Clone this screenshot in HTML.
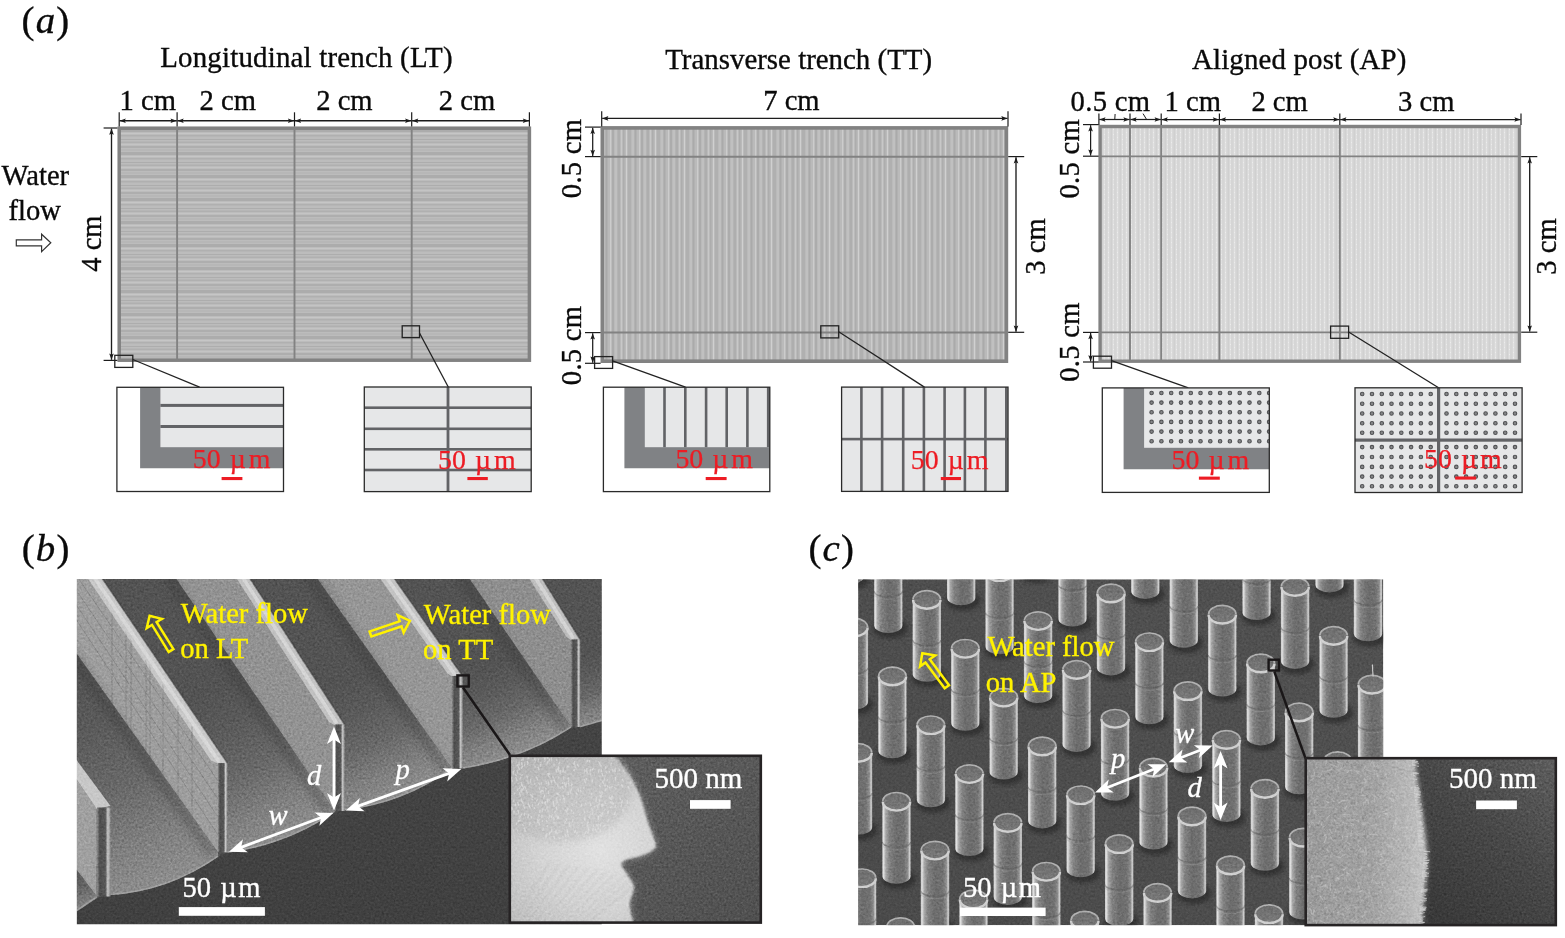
<!DOCTYPE html>
<html><head><meta charset="utf-8"><title>Figure</title>
<style>html,body{margin:0;padding:0;background:#fff;}svg{display:block}text{font-family:"Liberation Serif", serif;}</style>
</head><body>
<svg width="1565" height="938" viewBox="0 0 1565 938">
<rect width="1565" height="938" fill="#fff"/>
<defs>
<pattern id="pLT" width="8" height="23" patternUnits="userSpaceOnUse">
 <rect width="8" height="23" fill="#bcbcbc"/>
 <rect y="1" width="8" height="1" fill="#adadad"/>
 <rect y="3.5" width="8" height="1.5" fill="#b0b0b0"/>
 <rect y="6" width="8" height="1" fill="#c4c4c4"/>
 <rect y="8" width="8" height="2" fill="#aeaeae"/>
 <rect y="11.5" width="8" height="1" fill="#b2b2b2"/>
 <rect y="14" width="8" height="3" fill="#acacac"/>
 <rect y="18" width="8" height="1" fill="#c6c6c6"/>
 <rect y="20" width="8" height="1.5" fill="#b0b0b0"/>
</pattern>
<pattern id="pTT" width="29" height="8" patternUnits="userSpaceOnUse">
 <rect width="29" height="8" fill="#bababa"/>
 <rect x="1" width="1.2" height="8" fill="#cccccc"/>
 <rect x="3" width="2" height="8" fill="#acacac"/>
 <rect x="6.5" width="1" height="8" fill="#c6c6c6"/>
 <rect x="8.5" width="2.5" height="8" fill="#aeaeae"/>
 <rect x="12" width="1" height="8" fill="#c8c8c8"/>
 <rect x="14" width="1.5" height="8" fill="#adadad"/>
 <rect x="17" width="1" height="8" fill="#d0d0d0"/>
 <rect x="19" width="3" height="8" fill="#b0b0b0"/>
 <rect x="23.5" width="1" height="8" fill="#c6c6c6"/>
 <rect x="25.5" width="2" height="8" fill="#aaaaaa"/>
</pattern>
<pattern id="pAP" width="9" height="5" patternUnits="userSpaceOnUse">
 <rect width="9" height="5" fill="#d8d8d8"/>
 <rect x="1" width="1" height="5" fill="#e2e2e2"/>
 <rect x="3.5" width="1.5" height="5" fill="#d0d0d0"/>
 <rect x="6" width="1" height="5" fill="#e0e0e0"/>
 <rect x="7.5" width="1" height="5" fill="#d2d2d2"/>
 <rect x="1" y="2" width="1" height="1" fill="#ececec"/>
 <rect x="6" y="4" width="1" height="1" fill="#ececec"/>
</pattern>
<filter id="grain" x="0" y="0" width="100%" height="100%" color-interpolation-filters="sRGB">
 <feTurbulence type="fractalNoise" baseFrequency="0.45" numOctaves="2" seed="4" result="n"/>
 <feColorMatrix type="matrix" values="0.33 0.33 0.33 0 0  0.33 0.33 0.33 0 0  0.33 0.33 0.33 0 0  0 0 0 0 1"/>
 <feComponentTransfer><feFuncR type="linear" slope="2.2" intercept="-0.6"/><feFuncG type="linear" slope="2.2" intercept="-0.6"/><feFuncB type="linear" slope="2.2" intercept="-0.6"/></feComponentTransfer>
 <feGaussianBlur stdDeviation="0.55"/>
</filter>
<filter id="grain2" x="0" y="0" width="100%" height="100%" color-interpolation-filters="sRGB">
 <feTurbulence type="fractalNoise" baseFrequency="0.16" numOctaves="3" seed="9" result="n"/>
 <feColorMatrix type="saturate" values="0"/>
</filter>
<filter id="b1"><feGaussianBlur stdDeviation="1"/></filter>
<filter id="b2"><feGaussianBlur stdDeviation="2"/></filter>
<filter id="b3"><feGaussianBlur stdDeviation="3.5"/></filter>
<filter id="b06"><feGaussianBlur stdDeviation="0.6"/></filter>
</defs>
<text x="21.6" y="32.9" font-size="38.9" fill="#0a0a0a" stroke="#0a0a0a" stroke-width="0.35" text-anchor="start" letter-spacing="1.1">(<tspan font-style="italic">a</tspan>)</text>
<text x="160.2" y="67.3" font-size="28.9" fill="#0a0a0a" stroke="#0a0a0a" stroke-width="0.35" text-anchor="start" letter-spacing="0.2">Longitudinal trench (LT)</text>
<text x="665.2" y="69.3" font-size="28.9" fill="#0a0a0a" stroke="#0a0a0a" stroke-width="0.35" text-anchor="start">Transverse trench (TT)</text>
<text x="1192.0" y="69.3" font-size="28.9" fill="#0a0a0a" stroke="#0a0a0a" stroke-width="0.35" text-anchor="start" letter-spacing="0.15">Aligned post (AP)</text>
<rect x="119.2" y="128.2" width="410.2" height="232.0" fill="url(#pLT)" stroke="#828282" stroke-width="3.5"/>
<line x1="177.1" y1="128.2" x2="177.1" y2="360.2" stroke="#828282" stroke-width="1.9"/>
<line x1="294.5" y1="128.2" x2="294.5" y2="360.2" stroke="#828282" stroke-width="1.9"/>
<line x1="411.7" y1="128.2" x2="411.7" y2="360.2" stroke="#828282" stroke-width="1.9"/>
<line x1="119.2" y1="112.3" x2="119.2" y2="126.5" stroke="#1c1c1c" stroke-width="1.2"/>
<line x1="177.1" y1="112.3" x2="177.1" y2="126.5" stroke="#1c1c1c" stroke-width="1.2"/>
<line x1="294.5" y1="112.3" x2="294.5" y2="126.5" stroke="#1c1c1c" stroke-width="1.2"/>
<line x1="411.7" y1="112.3" x2="411.7" y2="126.5" stroke="#1c1c1c" stroke-width="1.2"/>
<line x1="529.4" y1="112.3" x2="529.4" y2="126.5" stroke="#1c1c1c" stroke-width="1.2"/>
<line x1="119.60000000000001" y1="120.7" x2="176.7" y2="120.7" stroke="#1c1c1c" stroke-width="1.35"/>
<polygon points="119.60,120.70 125.80,118.40 124.68,120.70 125.80,123.00" fill="#1c1c1c"/>
<polygon points="176.70,120.70 170.50,123.00 171.62,120.70 170.50,118.40" fill="#1c1c1c"/>
<line x1="177.5" y1="120.7" x2="294.1" y2="120.7" stroke="#1c1c1c" stroke-width="1.35"/>
<polygon points="177.50,120.70 183.70,118.40 182.58,120.70 183.70,123.00" fill="#1c1c1c"/>
<polygon points="294.10,120.70 287.90,123.00 289.02,120.70 287.90,118.40" fill="#1c1c1c"/>
<line x1="294.9" y1="120.7" x2="411.3" y2="120.7" stroke="#1c1c1c" stroke-width="1.35"/>
<polygon points="294.90,120.70 301.10,118.40 299.98,120.70 301.10,123.00" fill="#1c1c1c"/>
<polygon points="411.30,120.70 405.10,123.00 406.22,120.70 405.10,118.40" fill="#1c1c1c"/>
<line x1="412.09999999999997" y1="120.7" x2="529.0" y2="120.7" stroke="#1c1c1c" stroke-width="1.35"/>
<polygon points="412.10,120.70 418.30,118.40 417.18,120.70 418.30,123.00" fill="#1c1c1c"/>
<polygon points="529.00,120.70 522.80,123.00 523.92,120.70 522.80,118.40" fill="#1c1c1c"/>
<text x="119.6" y="110.3" font-size="28.6" fill="#0a0a0a" stroke="#0a0a0a" stroke-width="0.35" text-anchor="start">1 cm</text>
<text x="199.6" y="110.3" font-size="28.6" fill="#0a0a0a" stroke="#0a0a0a" stroke-width="0.35" text-anchor="start">2 cm</text>
<text x="316.2" y="110.3" font-size="28.6" fill="#0a0a0a" stroke="#0a0a0a" stroke-width="0.35" text-anchor="start">2 cm</text>
<text x="438.8" y="110.3" font-size="28.6" fill="#0a0a0a" stroke="#0a0a0a" stroke-width="0.35" text-anchor="start">2 cm</text>
<line x1="103.6" y1="128.0" x2="117.4" y2="128.0" stroke="#1c1c1c" stroke-width="1.2"/>
<line x1="103.6" y1="360.4" x2="117.4" y2="360.4" stroke="#1c1c1c" stroke-width="1.2"/>
<line x1="111.5" y1="128.6" x2="111.5" y2="359.8" stroke="#1c1c1c" stroke-width="1.35"/>
<polygon points="111.50,128.60 113.80,134.80 111.50,133.68 109.20,134.80" fill="#1c1c1c"/>
<polygon points="111.50,359.80 109.20,353.60 111.50,354.72 113.80,353.60" fill="#1c1c1c"/>
<text x="101.2" y="243.6" font-size="28.6" fill="#0a0a0a" stroke="#0a0a0a" stroke-width="0.35" text-anchor="middle" transform="rotate(-90 101.2 243.6)">4 cm</text>
<text x="1.6" y="185.1" font-size="28.6" fill="#0a0a0a" stroke="#0a0a0a" stroke-width="0.35" text-anchor="start">Water</text>
<text x="8.6" y="220.1" font-size="28.6" fill="#0a0a0a" stroke="#0a0a0a" stroke-width="0.35" text-anchor="start">flow</text>
<path d="M16.3,239.9 H41.6 V234.2 L50.8,242.8 L41.6,251.6 V245.8 H16.3 Z" fill="#fff" stroke="#333" stroke-width="1.2" stroke-linejoin="miter"/>
<rect x="114.8" y="355.3" width="18.0" height="12.1" fill="none" stroke="#222" stroke-width="1.3"/>
<line x1="132.8" y1="359.5" x2="199.6" y2="387.2" stroke="#222" stroke-width="1.3"/>
<rect x="402.2" y="325.8" width="17.3" height="11.8" fill="none" stroke="#222" stroke-width="1.3"/>
<line x1="419.5" y1="333.0" x2="448.4" y2="387.2" stroke="#222" stroke-width="1.3"/>
<rect x="116.9" y="387.3" width="166.6" height="104.2" fill="#fff"/>
<path d="M140.1,387.3 H283.5 V468.3 H140.1 Z" fill="#808285"/>
<rect x="160.4" y="387.3" width="123.1" height="59.9" fill="#e6e7e8"/>
<rect x="160.4" y="403.9" width="123.1" height="3" fill="#626366"/>
<rect x="160.4" y="425.0" width="123.1" height="3" fill="#626366"/>
<rect x="116.9" y="387.3" width="166.6" height="104.2" fill="none" stroke="#2a2a2a" stroke-width="1.3"/>
<text x="192.8" y="468.4" font-size="27.9" fill="#ed1c24" stroke="#ed1c24" stroke-width="0.25" text-anchor="start">50 <tspan dx="2">µ</tspan><tspan dx="3">m</tspan></text>
<rect x="221.6" y="477.0" width="20.8" height="3.1" fill="#ed1c24"/>
<rect x="364.3" y="387.0" width="166.9" height="104.6" fill="#e6e7e8"/>
<rect x="364.3" y="406.4" width="166.9" height="2.6" fill="#626366"/>
<rect x="364.3" y="427.5" width="166.9" height="2.6" fill="#626366"/>
<rect x="364.3" y="448.0" width="166.9" height="2.6" fill="#626366"/>
<rect x="364.3" y="468.7" width="166.9" height="2.6" fill="#626366"/>
<rect x="446.6" y="387.0" width="2.8" height="104.6" fill="#626366"/>
<rect x="364.3" y="387.0" width="166.9" height="104.6" fill="none" stroke="#2a2a2a" stroke-width="1.3"/>
<text x="438.0" y="468.8" font-size="27.9" fill="#ed1c24" stroke="#ed1c24" stroke-width="0.25" text-anchor="start">50 <tspan dx="2">µ</tspan><tspan dx="3">m</tspan></text>
<rect x="467.4" y="477.0" width="20.4" height="3.1" fill="#ed1c24"/>
<rect x="602.3" y="127.9" width="404.1" height="233.3" fill="url(#pTT)" stroke="#828282" stroke-width="3.6"/>
<line x1="602.3" y1="156.7" x2="1006.4" y2="156.7" stroke="#828282" stroke-width="1.9"/>
<line x1="602.3" y1="332.5" x2="1006.4" y2="332.5" stroke="#828282" stroke-width="1.9"/>
<line x1="601.7" y1="111.2" x2="601.7" y2="126.4" stroke="#1c1c1c" stroke-width="1.2"/>
<line x1="1008.0" y1="111.2" x2="1008.0" y2="126.4" stroke="#1c1c1c" stroke-width="1.2"/>
<line x1="602.2" y1="118.4" x2="1007.5" y2="118.4" stroke="#1c1c1c" stroke-width="1.35"/>
<polygon points="602.20,118.40 608.40,116.10 607.28,118.40 608.40,120.70" fill="#1c1c1c"/>
<polygon points="1007.50,118.40 1001.30,120.70 1002.42,118.40 1001.30,116.10" fill="#1c1c1c"/>
<text x="763.2" y="110.3" font-size="28.6" fill="#0a0a0a" stroke="#0a0a0a" stroke-width="0.35" text-anchor="start">7 cm</text>
<line x1="585.0" y1="127.1" x2="600.6" y2="127.1" stroke="#1c1c1c" stroke-width="1.2"/>
<line x1="585.0" y1="156.6" x2="600.6" y2="156.6" stroke="#1c1c1c" stroke-width="1.2"/>
<line x1="592.7" y1="127.7" x2="592.7" y2="156.0" stroke="#1c1c1c" stroke-width="1.25"/>
<polygon points="592.70,127.70 595.00,133.90 592.70,132.78 590.40,133.90" fill="#1c1c1c"/>
<polygon points="592.70,156.00 590.40,149.80 592.70,150.92 595.00,149.80" fill="#1c1c1c"/>
<line x1="585.0" y1="332.6" x2="600.6" y2="332.6" stroke="#1c1c1c" stroke-width="1.2"/>
<line x1="585.0" y1="363.3" x2="600.6" y2="363.3" stroke="#1c1c1c" stroke-width="1.2"/>
<line x1="592.7" y1="333.2" x2="592.7" y2="362.7" stroke="#1c1c1c" stroke-width="1.25"/>
<polygon points="592.70,333.20 595.00,339.40 592.70,338.28 590.40,339.40" fill="#1c1c1c"/>
<polygon points="592.70,362.70 590.40,356.50 592.70,357.62 595.00,356.50" fill="#1c1c1c"/>
<text x="580.8" y="158.4" font-size="28.6" fill="#0a0a0a" stroke="#0a0a0a" stroke-width="0.35" text-anchor="middle" transform="rotate(-90 580.8 158.4)" letter-spacing="0.3">0.5 cm</text>
<text x="580.8" y="345.4" font-size="28.6" fill="#0a0a0a" stroke="#0a0a0a" stroke-width="0.35" text-anchor="middle" transform="rotate(-90 580.8 345.4)" letter-spacing="0.3">0.5 cm</text>
<line x1="1008.2" y1="156.6" x2="1024.2" y2="156.6" stroke="#1c1c1c" stroke-width="1.2"/>
<line x1="1008.2" y1="332.3" x2="1024.2" y2="332.3" stroke="#1c1c1c" stroke-width="1.2"/>
<line x1="1016.0" y1="157.2" x2="1016.0" y2="331.7" stroke="#1c1c1c" stroke-width="1.35"/>
<polygon points="1016.00,157.20 1018.30,163.40 1016.00,162.28 1013.70,163.40" fill="#1c1c1c"/>
<polygon points="1016.00,331.70 1013.70,325.50 1016.00,326.62 1018.30,325.50" fill="#1c1c1c"/>
<text x="1045.0" y="246.5" font-size="28.6" fill="#0a0a0a" stroke="#0a0a0a" stroke-width="0.35" text-anchor="middle" transform="rotate(-90 1045.0 246.5)">3 cm</text>
<rect x="594.6" y="356.6" width="18.0" height="11.8" fill="none" stroke="#222" stroke-width="1.3"/>
<line x1="612.6" y1="360.8" x2="685.5" y2="387.2" stroke="#222" stroke-width="1.3"/>
<rect x="820.8" y="325.8" width="17.9" height="12.1" fill="none" stroke="#222" stroke-width="1.3"/>
<line x1="838.7" y1="331.8" x2="924.4" y2="387.1" stroke="#222" stroke-width="1.3"/>
<rect x="603.4" y="387.2" width="166.4" height="104.4" fill="#fff"/>
<path d="M624.4,387.2 H769.8 V468.3 H624.4 Z" fill="#808285"/>
<rect x="644.8" y="387.2" width="125.0" height="60.0" fill="#e6e7e8"/>
<rect x="663.2" y="387.2" width="2.6" height="60.0" fill="#626366"/>
<rect x="684.0" y="387.2" width="2.6" height="60.0" fill="#626366"/>
<rect x="704.8000000000001" y="387.2" width="2.6" height="60.0" fill="#626366"/>
<rect x="725.4000000000001" y="387.2" width="2.6" height="60.0" fill="#626366"/>
<rect x="746.1" y="387.2" width="2.6" height="60.0" fill="#626366"/>
<rect x="766.9000000000001" y="387.2" width="2.6" height="60.0" fill="#626366"/>
<rect x="603.4" y="387.2" width="166.4" height="104.4" fill="none" stroke="#2a2a2a" stroke-width="1.3"/>
<text x="675.4" y="468.4" font-size="27.9" fill="#ed1c24" stroke="#ed1c24" stroke-width="0.25" text-anchor="start">50 <tspan dx="2">µ</tspan><tspan dx="3">m</tspan></text>
<rect x="705.7" y="477.0" width="20.9" height="3.1" fill="#ed1c24"/>
<rect x="841.6" y="387.1" width="166.4" height="104.3" fill="#e6e7e8"/>
<rect x="860.1" y="387.1" width="2.6" height="104.3" fill="#626366"/>
<rect x="880.8000000000001" y="387.1" width="2.6" height="104.3" fill="#626366"/>
<rect x="901.9000000000001" y="387.1" width="2.6" height="104.3" fill="#626366"/>
<rect x="922.6" y="387.1" width="2.6" height="104.3" fill="#626366"/>
<rect x="943.3000000000001" y="387.1" width="2.6" height="104.3" fill="#626366"/>
<rect x="963.6" y="387.1" width="2.6" height="104.3" fill="#626366"/>
<rect x="984.1" y="387.1" width="2.6" height="104.3" fill="#626366"/>
<rect x="1005.0" y="387.1" width="2.6" height="104.3" fill="#626366"/>
<rect x="841.6" y="437.8" width="166.4" height="2.6" fill="#626366"/>
<rect x="841.6" y="387.1" width="166.4" height="104.3" fill="none" stroke="#2a2a2a" stroke-width="1.3"/>
<text x="910.8" y="468.5" font-size="27.9" fill="#ed1c24" stroke="#ed1c24" stroke-width="0.25" text-anchor="start">50 <tspan dx="2">µ</tspan><tspan dx="3">m</tspan></text>
<rect x="940.8" y="477.0" width="20.2" height="3.1" fill="#ed1c24"/>
<rect x="1100.1" y="126.5" width="419.3" height="234.7" fill="url(#pAP)" stroke="#828282" stroke-width="3.4"/>
<line x1="1130.0" y1="126.5" x2="1130.0" y2="361.2" stroke="#828282" stroke-width="1.9"/>
<line x1="1161.2" y1="126.5" x2="1161.2" y2="361.2" stroke="#828282" stroke-width="1.9"/>
<line x1="1219.4" y1="126.5" x2="1219.4" y2="361.2" stroke="#828282" stroke-width="1.9"/>
<line x1="1339.8" y1="126.5" x2="1339.8" y2="361.2" stroke="#828282" stroke-width="1.9"/>
<line x1="1100.1" y1="156.4" x2="1519.4" y2="156.4" stroke="#828282" stroke-width="1.9"/>
<line x1="1100.1" y1="332.4" x2="1519.4" y2="332.4" stroke="#828282" stroke-width="1.9"/>
<line x1="1098.9" y1="113.4" x2="1098.9" y2="125.0" stroke="#1c1c1c" stroke-width="1.2"/>
<line x1="1130.0" y1="113.4" x2="1130.0" y2="125.0" stroke="#1c1c1c" stroke-width="1.2"/>
<line x1="1161.2" y1="113.4" x2="1161.2" y2="125.0" stroke="#1c1c1c" stroke-width="1.2"/>
<line x1="1219.4" y1="113.4" x2="1219.4" y2="125.0" stroke="#1c1c1c" stroke-width="1.2"/>
<line x1="1339.8" y1="113.4" x2="1339.8" y2="125.0" stroke="#1c1c1c" stroke-width="1.2"/>
<line x1="1521.0" y1="113.4" x2="1521.0" y2="125.0" stroke="#1c1c1c" stroke-width="1.2"/>
<line x1="1099.3000000000002" y1="119.5" x2="1129.6" y2="119.5" stroke="#1c1c1c" stroke-width="1.25"/>
<polygon points="1099.30,119.50 1105.50,117.20 1104.38,119.50 1105.50,121.80" fill="#1c1c1c"/>
<polygon points="1129.60,119.50 1123.40,121.80 1124.52,119.50 1123.40,117.20" fill="#1c1c1c"/>
<line x1="1130.4" y1="119.5" x2="1160.8" y2="119.5" stroke="#1c1c1c" stroke-width="1.25"/>
<polygon points="1130.40,119.50 1136.60,117.20 1135.48,119.50 1136.60,121.80" fill="#1c1c1c"/>
<polygon points="1160.80,119.50 1154.60,121.80 1155.72,119.50 1154.60,117.20" fill="#1c1c1c"/>
<line x1="1161.6000000000001" y1="119.5" x2="1219.0" y2="119.5" stroke="#1c1c1c" stroke-width="1.25"/>
<polygon points="1161.60,119.50 1167.80,117.20 1166.68,119.50 1167.80,121.80" fill="#1c1c1c"/>
<polygon points="1219.00,119.50 1212.80,121.80 1213.92,119.50 1212.80,117.20" fill="#1c1c1c"/>
<line x1="1219.8000000000002" y1="119.5" x2="1339.3999999999999" y2="119.5" stroke="#1c1c1c" stroke-width="1.25"/>
<polygon points="1219.80,119.50 1226.00,117.20 1224.88,119.50 1226.00,121.80" fill="#1c1c1c"/>
<polygon points="1339.40,119.50 1333.20,121.80 1334.32,119.50 1333.20,117.20" fill="#1c1c1c"/>
<line x1="1340.2" y1="119.5" x2="1520.6" y2="119.5" stroke="#1c1c1c" stroke-width="1.25"/>
<polygon points="1340.20,119.50 1346.40,117.20 1345.28,119.50 1346.40,121.80" fill="#1c1c1c"/>
<polygon points="1520.60,119.50 1514.40,121.80 1515.52,119.50 1514.40,117.20" fill="#1c1c1c"/>
<line x1="1115.1" y1="114.0" x2="1114.8" y2="119.0" stroke="#1c1c1c" stroke-width="1.0"/>
<line x1="1143.0" y1="113.6" x2="1146.3" y2="119.0" stroke="#1c1c1c" stroke-width="1.0"/>
<text x="1070.6" y="110.8" font-size="28.6" fill="#0a0a0a" stroke="#0a0a0a" stroke-width="0.35" text-anchor="start" letter-spacing="0.3">0.5 cm</text>
<text x="1164.6" y="110.8" font-size="28.6" fill="#0a0a0a" stroke="#0a0a0a" stroke-width="0.35" text-anchor="start">1 cm</text>
<text x="1251.4" y="110.8" font-size="28.6" fill="#0a0a0a" stroke="#0a0a0a" stroke-width="0.35" text-anchor="start">2 cm</text>
<text x="1398.0" y="110.8" font-size="28.6" fill="#0a0a0a" stroke="#0a0a0a" stroke-width="0.35" text-anchor="start">3 cm</text>
<line x1="1083.0" y1="124.6" x2="1098.6" y2="124.6" stroke="#1c1c1c" stroke-width="1.2"/>
<line x1="1083.0" y1="156.2" x2="1098.6" y2="156.2" stroke="#1c1c1c" stroke-width="1.2"/>
<line x1="1090.6" y1="125.2" x2="1090.6" y2="155.6" stroke="#1c1c1c" stroke-width="1.25"/>
<polygon points="1090.60,125.20 1092.90,131.40 1090.60,130.28 1088.30,131.40" fill="#1c1c1c"/>
<polygon points="1090.60,155.60 1088.30,149.40 1090.60,150.52 1092.90,149.40" fill="#1c1c1c"/>
<line x1="1083.0" y1="332.4" x2="1098.6" y2="332.4" stroke="#1c1c1c" stroke-width="1.2"/>
<line x1="1083.0" y1="362.0" x2="1098.6" y2="362.0" stroke="#1c1c1c" stroke-width="1.2"/>
<line x1="1090.6" y1="333.0" x2="1090.6" y2="361.4" stroke="#1c1c1c" stroke-width="1.25"/>
<polygon points="1090.60,333.00 1092.90,339.20 1090.60,338.08 1088.30,339.20" fill="#1c1c1c"/>
<polygon points="1090.60,361.40 1088.30,355.20 1090.60,356.32 1092.90,355.20" fill="#1c1c1c"/>
<text x="1079.2" y="158.7" font-size="28.6" fill="#0a0a0a" stroke="#0a0a0a" stroke-width="0.35" text-anchor="middle" transform="rotate(-90 1079.2 158.7)" letter-spacing="0.3">0.5 cm</text>
<text x="1079.2" y="342.0" font-size="28.6" fill="#0a0a0a" stroke="#0a0a0a" stroke-width="0.35" text-anchor="middle" transform="rotate(-90 1079.2 342.0)" letter-spacing="0.3">0.5 cm</text>
<line x1="1521.2" y1="156.6" x2="1537.3" y2="156.6" stroke="#1c1c1c" stroke-width="1.2"/>
<line x1="1521.2" y1="332.2" x2="1537.3" y2="332.2" stroke="#1c1c1c" stroke-width="1.2"/>
<line x1="1529.7" y1="157.2" x2="1529.7" y2="331.6" stroke="#1c1c1c" stroke-width="1.35"/>
<polygon points="1529.70,157.20 1532.00,163.40 1529.70,162.28 1527.40,163.40" fill="#1c1c1c"/>
<polygon points="1529.70,331.60 1527.40,325.40 1529.70,326.52 1532.00,325.40" fill="#1c1c1c"/>
<text x="1556.2" y="246.5" font-size="28.6" fill="#0a0a0a" stroke="#0a0a0a" stroke-width="0.35" text-anchor="middle" transform="rotate(-90 1556.2 246.5)">3 cm</text>
<rect x="1093.4" y="356.2" width="18.1" height="12.0" fill="none" stroke="#222" stroke-width="1.3"/>
<line x1="1111.5" y1="360.6" x2="1188.3" y2="387.8" stroke="#222" stroke-width="1.3"/>
<rect x="1330.6" y="326.1" width="18.0" height="12.2" fill="none" stroke="#222" stroke-width="1.3"/>
<line x1="1348.6" y1="332.0" x2="1438.6" y2="387.8" stroke="#222" stroke-width="1.3"/>
<rect x="1102.3" y="387.9" width="167.0" height="104.5" fill="#fff"/>
<path d="M1123.6,387.9 H1269.3 V469.2 H1123.6 Z" fill="#808285"/>
<rect x="1144.1" y="387.9" width="125.2" height="59.9" fill="#e6e7e8"/>
<clipPath id="c5"><rect x="1144.1" y="387.9" width="125.2" height="59.9"/></clipPath><g clip-path="url(#c5)">
<circle cx="1151.6" cy="393.0" r="1.75" fill="#87888a" stroke="#515254" stroke-width="1.1"/>
<circle cx="1151.6" cy="402.6" r="1.75" fill="#87888a" stroke="#515254" stroke-width="1.1"/>
<circle cx="1151.6" cy="412.3" r="1.75" fill="#87888a" stroke="#515254" stroke-width="1.1"/>
<circle cx="1151.6" cy="421.9" r="1.75" fill="#87888a" stroke="#515254" stroke-width="1.1"/>
<circle cx="1151.6" cy="431.6" r="1.75" fill="#87888a" stroke="#515254" stroke-width="1.1"/>
<circle cx="1151.6" cy="441.2" r="1.75" fill="#87888a" stroke="#515254" stroke-width="1.1"/>
<circle cx="1161.4" cy="393.0" r="1.75" fill="#87888a" stroke="#515254" stroke-width="1.1"/>
<circle cx="1161.4" cy="402.6" r="1.75" fill="#87888a" stroke="#515254" stroke-width="1.1"/>
<circle cx="1161.4" cy="412.3" r="1.75" fill="#87888a" stroke="#515254" stroke-width="1.1"/>
<circle cx="1161.4" cy="421.9" r="1.75" fill="#87888a" stroke="#515254" stroke-width="1.1"/>
<circle cx="1161.4" cy="431.6" r="1.75" fill="#87888a" stroke="#515254" stroke-width="1.1"/>
<circle cx="1161.4" cy="441.2" r="1.75" fill="#87888a" stroke="#515254" stroke-width="1.1"/>
<circle cx="1171.2" cy="393.0" r="1.75" fill="#87888a" stroke="#515254" stroke-width="1.1"/>
<circle cx="1171.2" cy="402.6" r="1.75" fill="#87888a" stroke="#515254" stroke-width="1.1"/>
<circle cx="1171.2" cy="412.3" r="1.75" fill="#87888a" stroke="#515254" stroke-width="1.1"/>
<circle cx="1171.2" cy="421.9" r="1.75" fill="#87888a" stroke="#515254" stroke-width="1.1"/>
<circle cx="1171.2" cy="431.6" r="1.75" fill="#87888a" stroke="#515254" stroke-width="1.1"/>
<circle cx="1171.2" cy="441.2" r="1.75" fill="#87888a" stroke="#515254" stroke-width="1.1"/>
<circle cx="1181.0" cy="393.0" r="1.75" fill="#87888a" stroke="#515254" stroke-width="1.1"/>
<circle cx="1181.0" cy="402.6" r="1.75" fill="#87888a" stroke="#515254" stroke-width="1.1"/>
<circle cx="1181.0" cy="412.3" r="1.75" fill="#87888a" stroke="#515254" stroke-width="1.1"/>
<circle cx="1181.0" cy="421.9" r="1.75" fill="#87888a" stroke="#515254" stroke-width="1.1"/>
<circle cx="1181.0" cy="431.6" r="1.75" fill="#87888a" stroke="#515254" stroke-width="1.1"/>
<circle cx="1181.0" cy="441.2" r="1.75" fill="#87888a" stroke="#515254" stroke-width="1.1"/>
<circle cx="1190.8" cy="393.0" r="1.75" fill="#87888a" stroke="#515254" stroke-width="1.1"/>
<circle cx="1190.8" cy="402.6" r="1.75" fill="#87888a" stroke="#515254" stroke-width="1.1"/>
<circle cx="1190.8" cy="412.3" r="1.75" fill="#87888a" stroke="#515254" stroke-width="1.1"/>
<circle cx="1190.8" cy="421.9" r="1.75" fill="#87888a" stroke="#515254" stroke-width="1.1"/>
<circle cx="1190.8" cy="431.6" r="1.75" fill="#87888a" stroke="#515254" stroke-width="1.1"/>
<circle cx="1190.8" cy="441.2" r="1.75" fill="#87888a" stroke="#515254" stroke-width="1.1"/>
<circle cx="1200.5" cy="393.0" r="1.75" fill="#87888a" stroke="#515254" stroke-width="1.1"/>
<circle cx="1200.5" cy="402.6" r="1.75" fill="#87888a" stroke="#515254" stroke-width="1.1"/>
<circle cx="1200.5" cy="412.3" r="1.75" fill="#87888a" stroke="#515254" stroke-width="1.1"/>
<circle cx="1200.5" cy="421.9" r="1.75" fill="#87888a" stroke="#515254" stroke-width="1.1"/>
<circle cx="1200.5" cy="431.6" r="1.75" fill="#87888a" stroke="#515254" stroke-width="1.1"/>
<circle cx="1200.5" cy="441.2" r="1.75" fill="#87888a" stroke="#515254" stroke-width="1.1"/>
<circle cx="1210.3" cy="393.0" r="1.75" fill="#87888a" stroke="#515254" stroke-width="1.1"/>
<circle cx="1210.3" cy="402.6" r="1.75" fill="#87888a" stroke="#515254" stroke-width="1.1"/>
<circle cx="1210.3" cy="412.3" r="1.75" fill="#87888a" stroke="#515254" stroke-width="1.1"/>
<circle cx="1210.3" cy="421.9" r="1.75" fill="#87888a" stroke="#515254" stroke-width="1.1"/>
<circle cx="1210.3" cy="431.6" r="1.75" fill="#87888a" stroke="#515254" stroke-width="1.1"/>
<circle cx="1210.3" cy="441.2" r="1.75" fill="#87888a" stroke="#515254" stroke-width="1.1"/>
<circle cx="1220.1" cy="393.0" r="1.75" fill="#87888a" stroke="#515254" stroke-width="1.1"/>
<circle cx="1220.1" cy="402.6" r="1.75" fill="#87888a" stroke="#515254" stroke-width="1.1"/>
<circle cx="1220.1" cy="412.3" r="1.75" fill="#87888a" stroke="#515254" stroke-width="1.1"/>
<circle cx="1220.1" cy="421.9" r="1.75" fill="#87888a" stroke="#515254" stroke-width="1.1"/>
<circle cx="1220.1" cy="431.6" r="1.75" fill="#87888a" stroke="#515254" stroke-width="1.1"/>
<circle cx="1220.1" cy="441.2" r="1.75" fill="#87888a" stroke="#515254" stroke-width="1.1"/>
<circle cx="1229.9" cy="393.0" r="1.75" fill="#87888a" stroke="#515254" stroke-width="1.1"/>
<circle cx="1229.9" cy="402.6" r="1.75" fill="#87888a" stroke="#515254" stroke-width="1.1"/>
<circle cx="1229.9" cy="412.3" r="1.75" fill="#87888a" stroke="#515254" stroke-width="1.1"/>
<circle cx="1229.9" cy="421.9" r="1.75" fill="#87888a" stroke="#515254" stroke-width="1.1"/>
<circle cx="1229.9" cy="431.6" r="1.75" fill="#87888a" stroke="#515254" stroke-width="1.1"/>
<circle cx="1229.9" cy="441.2" r="1.75" fill="#87888a" stroke="#515254" stroke-width="1.1"/>
<circle cx="1239.7" cy="393.0" r="1.75" fill="#87888a" stroke="#515254" stroke-width="1.1"/>
<circle cx="1239.7" cy="402.6" r="1.75" fill="#87888a" stroke="#515254" stroke-width="1.1"/>
<circle cx="1239.7" cy="412.3" r="1.75" fill="#87888a" stroke="#515254" stroke-width="1.1"/>
<circle cx="1239.7" cy="421.9" r="1.75" fill="#87888a" stroke="#515254" stroke-width="1.1"/>
<circle cx="1239.7" cy="431.6" r="1.75" fill="#87888a" stroke="#515254" stroke-width="1.1"/>
<circle cx="1239.7" cy="441.2" r="1.75" fill="#87888a" stroke="#515254" stroke-width="1.1"/>
<circle cx="1249.5" cy="393.0" r="1.75" fill="#87888a" stroke="#515254" stroke-width="1.1"/>
<circle cx="1249.5" cy="402.6" r="1.75" fill="#87888a" stroke="#515254" stroke-width="1.1"/>
<circle cx="1249.5" cy="412.3" r="1.75" fill="#87888a" stroke="#515254" stroke-width="1.1"/>
<circle cx="1249.5" cy="421.9" r="1.75" fill="#87888a" stroke="#515254" stroke-width="1.1"/>
<circle cx="1249.5" cy="431.6" r="1.75" fill="#87888a" stroke="#515254" stroke-width="1.1"/>
<circle cx="1249.5" cy="441.2" r="1.75" fill="#87888a" stroke="#515254" stroke-width="1.1"/>
<circle cx="1259.3" cy="393.0" r="1.75" fill="#87888a" stroke="#515254" stroke-width="1.1"/>
<circle cx="1259.3" cy="402.6" r="1.75" fill="#87888a" stroke="#515254" stroke-width="1.1"/>
<circle cx="1259.3" cy="412.3" r="1.75" fill="#87888a" stroke="#515254" stroke-width="1.1"/>
<circle cx="1259.3" cy="421.9" r="1.75" fill="#87888a" stroke="#515254" stroke-width="1.1"/>
<circle cx="1259.3" cy="431.6" r="1.75" fill="#87888a" stroke="#515254" stroke-width="1.1"/>
<circle cx="1259.3" cy="441.2" r="1.75" fill="#87888a" stroke="#515254" stroke-width="1.1"/>
<circle cx="1269.1" cy="393.0" r="1.75" fill="#87888a" stroke="#515254" stroke-width="1.1"/>
<circle cx="1269.1" cy="402.6" r="1.75" fill="#87888a" stroke="#515254" stroke-width="1.1"/>
<circle cx="1269.1" cy="412.3" r="1.75" fill="#87888a" stroke="#515254" stroke-width="1.1"/>
<circle cx="1269.1" cy="421.9" r="1.75" fill="#87888a" stroke="#515254" stroke-width="1.1"/>
<circle cx="1269.1" cy="431.6" r="1.75" fill="#87888a" stroke="#515254" stroke-width="1.1"/>
<circle cx="1269.1" cy="441.2" r="1.75" fill="#87888a" stroke="#515254" stroke-width="1.1"/>
</g>
<rect x="1102.3" y="387.9" width="167.0" height="104.5" fill="none" stroke="#2a2a2a" stroke-width="1.3"/>
<text x="1171.6" y="468.5" font-size="27.9" fill="#ed1c24" stroke="#ed1c24" stroke-width="0.25" text-anchor="start">50 <tspan dx="2">µ</tspan><tspan dx="3">m</tspan></text>
<rect x="1198.9" y="476.6" width="20.9" height="3.1" fill="#ed1c24"/>
<rect x="1355.0" y="387.8" width="167.1" height="104.7" fill="#e6e7e8"/>
<circle cx="1362.2" cy="394.0" r="1.75" fill="#87888a" stroke="#515254" stroke-width="1.1"/>
<circle cx="1362.2" cy="403.8" r="1.75" fill="#87888a" stroke="#515254" stroke-width="1.1"/>
<circle cx="1362.2" cy="413.5" r="1.75" fill="#87888a" stroke="#515254" stroke-width="1.1"/>
<circle cx="1362.2" cy="423.2" r="1.75" fill="#87888a" stroke="#515254" stroke-width="1.1"/>
<circle cx="1362.2" cy="432.8" r="1.75" fill="#87888a" stroke="#515254" stroke-width="1.1"/>
<circle cx="1362.2" cy="447.1" r="1.75" fill="#87888a" stroke="#515254" stroke-width="1.1"/>
<circle cx="1362.2" cy="457.0" r="1.75" fill="#87888a" stroke="#515254" stroke-width="1.1"/>
<circle cx="1362.2" cy="466.9" r="1.75" fill="#87888a" stroke="#515254" stroke-width="1.1"/>
<circle cx="1362.2" cy="476.6" r="1.75" fill="#87888a" stroke="#515254" stroke-width="1.1"/>
<circle cx="1362.2" cy="486.3" r="1.75" fill="#87888a" stroke="#515254" stroke-width="1.1"/>
<circle cx="1372.0" cy="394.0" r="1.75" fill="#87888a" stroke="#515254" stroke-width="1.1"/>
<circle cx="1372.0" cy="403.8" r="1.75" fill="#87888a" stroke="#515254" stroke-width="1.1"/>
<circle cx="1372.0" cy="413.5" r="1.75" fill="#87888a" stroke="#515254" stroke-width="1.1"/>
<circle cx="1372.0" cy="423.2" r="1.75" fill="#87888a" stroke="#515254" stroke-width="1.1"/>
<circle cx="1372.0" cy="432.8" r="1.75" fill="#87888a" stroke="#515254" stroke-width="1.1"/>
<circle cx="1372.0" cy="447.1" r="1.75" fill="#87888a" stroke="#515254" stroke-width="1.1"/>
<circle cx="1372.0" cy="457.0" r="1.75" fill="#87888a" stroke="#515254" stroke-width="1.1"/>
<circle cx="1372.0" cy="466.9" r="1.75" fill="#87888a" stroke="#515254" stroke-width="1.1"/>
<circle cx="1372.0" cy="476.6" r="1.75" fill="#87888a" stroke="#515254" stroke-width="1.1"/>
<circle cx="1372.0" cy="486.3" r="1.75" fill="#87888a" stroke="#515254" stroke-width="1.1"/>
<circle cx="1381.8" cy="394.0" r="1.75" fill="#87888a" stroke="#515254" stroke-width="1.1"/>
<circle cx="1381.8" cy="403.8" r="1.75" fill="#87888a" stroke="#515254" stroke-width="1.1"/>
<circle cx="1381.8" cy="413.5" r="1.75" fill="#87888a" stroke="#515254" stroke-width="1.1"/>
<circle cx="1381.8" cy="423.2" r="1.75" fill="#87888a" stroke="#515254" stroke-width="1.1"/>
<circle cx="1381.8" cy="432.8" r="1.75" fill="#87888a" stroke="#515254" stroke-width="1.1"/>
<circle cx="1381.8" cy="447.1" r="1.75" fill="#87888a" stroke="#515254" stroke-width="1.1"/>
<circle cx="1381.8" cy="457.0" r="1.75" fill="#87888a" stroke="#515254" stroke-width="1.1"/>
<circle cx="1381.8" cy="466.9" r="1.75" fill="#87888a" stroke="#515254" stroke-width="1.1"/>
<circle cx="1381.8" cy="476.6" r="1.75" fill="#87888a" stroke="#515254" stroke-width="1.1"/>
<circle cx="1381.8" cy="486.3" r="1.75" fill="#87888a" stroke="#515254" stroke-width="1.1"/>
<circle cx="1391.5" cy="394.0" r="1.75" fill="#87888a" stroke="#515254" stroke-width="1.1"/>
<circle cx="1391.5" cy="403.8" r="1.75" fill="#87888a" stroke="#515254" stroke-width="1.1"/>
<circle cx="1391.5" cy="413.5" r="1.75" fill="#87888a" stroke="#515254" stroke-width="1.1"/>
<circle cx="1391.5" cy="423.2" r="1.75" fill="#87888a" stroke="#515254" stroke-width="1.1"/>
<circle cx="1391.5" cy="432.8" r="1.75" fill="#87888a" stroke="#515254" stroke-width="1.1"/>
<circle cx="1391.5" cy="447.1" r="1.75" fill="#87888a" stroke="#515254" stroke-width="1.1"/>
<circle cx="1391.5" cy="457.0" r="1.75" fill="#87888a" stroke="#515254" stroke-width="1.1"/>
<circle cx="1391.5" cy="466.9" r="1.75" fill="#87888a" stroke="#515254" stroke-width="1.1"/>
<circle cx="1391.5" cy="476.6" r="1.75" fill="#87888a" stroke="#515254" stroke-width="1.1"/>
<circle cx="1391.5" cy="486.3" r="1.75" fill="#87888a" stroke="#515254" stroke-width="1.1"/>
<circle cx="1401.3" cy="394.0" r="1.75" fill="#87888a" stroke="#515254" stroke-width="1.1"/>
<circle cx="1401.3" cy="403.8" r="1.75" fill="#87888a" stroke="#515254" stroke-width="1.1"/>
<circle cx="1401.3" cy="413.5" r="1.75" fill="#87888a" stroke="#515254" stroke-width="1.1"/>
<circle cx="1401.3" cy="423.2" r="1.75" fill="#87888a" stroke="#515254" stroke-width="1.1"/>
<circle cx="1401.3" cy="432.8" r="1.75" fill="#87888a" stroke="#515254" stroke-width="1.1"/>
<circle cx="1401.3" cy="447.1" r="1.75" fill="#87888a" stroke="#515254" stroke-width="1.1"/>
<circle cx="1401.3" cy="457.0" r="1.75" fill="#87888a" stroke="#515254" stroke-width="1.1"/>
<circle cx="1401.3" cy="466.9" r="1.75" fill="#87888a" stroke="#515254" stroke-width="1.1"/>
<circle cx="1401.3" cy="476.6" r="1.75" fill="#87888a" stroke="#515254" stroke-width="1.1"/>
<circle cx="1401.3" cy="486.3" r="1.75" fill="#87888a" stroke="#515254" stroke-width="1.1"/>
<circle cx="1411.1" cy="394.0" r="1.75" fill="#87888a" stroke="#515254" stroke-width="1.1"/>
<circle cx="1411.1" cy="403.8" r="1.75" fill="#87888a" stroke="#515254" stroke-width="1.1"/>
<circle cx="1411.1" cy="413.5" r="1.75" fill="#87888a" stroke="#515254" stroke-width="1.1"/>
<circle cx="1411.1" cy="423.2" r="1.75" fill="#87888a" stroke="#515254" stroke-width="1.1"/>
<circle cx="1411.1" cy="432.8" r="1.75" fill="#87888a" stroke="#515254" stroke-width="1.1"/>
<circle cx="1411.1" cy="447.1" r="1.75" fill="#87888a" stroke="#515254" stroke-width="1.1"/>
<circle cx="1411.1" cy="457.0" r="1.75" fill="#87888a" stroke="#515254" stroke-width="1.1"/>
<circle cx="1411.1" cy="466.9" r="1.75" fill="#87888a" stroke="#515254" stroke-width="1.1"/>
<circle cx="1411.1" cy="476.6" r="1.75" fill="#87888a" stroke="#515254" stroke-width="1.1"/>
<circle cx="1411.1" cy="486.3" r="1.75" fill="#87888a" stroke="#515254" stroke-width="1.1"/>
<circle cx="1420.9" cy="394.0" r="1.75" fill="#87888a" stroke="#515254" stroke-width="1.1"/>
<circle cx="1420.9" cy="403.8" r="1.75" fill="#87888a" stroke="#515254" stroke-width="1.1"/>
<circle cx="1420.9" cy="413.5" r="1.75" fill="#87888a" stroke="#515254" stroke-width="1.1"/>
<circle cx="1420.9" cy="423.2" r="1.75" fill="#87888a" stroke="#515254" stroke-width="1.1"/>
<circle cx="1420.9" cy="432.8" r="1.75" fill="#87888a" stroke="#515254" stroke-width="1.1"/>
<circle cx="1420.9" cy="447.1" r="1.75" fill="#87888a" stroke="#515254" stroke-width="1.1"/>
<circle cx="1420.9" cy="457.0" r="1.75" fill="#87888a" stroke="#515254" stroke-width="1.1"/>
<circle cx="1420.9" cy="466.9" r="1.75" fill="#87888a" stroke="#515254" stroke-width="1.1"/>
<circle cx="1420.9" cy="476.6" r="1.75" fill="#87888a" stroke="#515254" stroke-width="1.1"/>
<circle cx="1420.9" cy="486.3" r="1.75" fill="#87888a" stroke="#515254" stroke-width="1.1"/>
<circle cx="1430.7" cy="394.0" r="1.75" fill="#87888a" stroke="#515254" stroke-width="1.1"/>
<circle cx="1430.7" cy="403.8" r="1.75" fill="#87888a" stroke="#515254" stroke-width="1.1"/>
<circle cx="1430.7" cy="413.5" r="1.75" fill="#87888a" stroke="#515254" stroke-width="1.1"/>
<circle cx="1430.7" cy="423.2" r="1.75" fill="#87888a" stroke="#515254" stroke-width="1.1"/>
<circle cx="1430.7" cy="432.8" r="1.75" fill="#87888a" stroke="#515254" stroke-width="1.1"/>
<circle cx="1430.7" cy="447.1" r="1.75" fill="#87888a" stroke="#515254" stroke-width="1.1"/>
<circle cx="1430.7" cy="457.0" r="1.75" fill="#87888a" stroke="#515254" stroke-width="1.1"/>
<circle cx="1430.7" cy="466.9" r="1.75" fill="#87888a" stroke="#515254" stroke-width="1.1"/>
<circle cx="1430.7" cy="476.6" r="1.75" fill="#87888a" stroke="#515254" stroke-width="1.1"/>
<circle cx="1430.7" cy="486.3" r="1.75" fill="#87888a" stroke="#515254" stroke-width="1.1"/>
<circle cx="1446.5" cy="394.0" r="1.75" fill="#87888a" stroke="#515254" stroke-width="1.1"/>
<circle cx="1446.5" cy="403.8" r="1.75" fill="#87888a" stroke="#515254" stroke-width="1.1"/>
<circle cx="1446.5" cy="413.5" r="1.75" fill="#87888a" stroke="#515254" stroke-width="1.1"/>
<circle cx="1446.5" cy="423.2" r="1.75" fill="#87888a" stroke="#515254" stroke-width="1.1"/>
<circle cx="1446.5" cy="432.8" r="1.75" fill="#87888a" stroke="#515254" stroke-width="1.1"/>
<circle cx="1446.5" cy="447.1" r="1.75" fill="#87888a" stroke="#515254" stroke-width="1.1"/>
<circle cx="1446.5" cy="457.0" r="1.75" fill="#87888a" stroke="#515254" stroke-width="1.1"/>
<circle cx="1446.5" cy="466.9" r="1.75" fill="#87888a" stroke="#515254" stroke-width="1.1"/>
<circle cx="1446.5" cy="476.6" r="1.75" fill="#87888a" stroke="#515254" stroke-width="1.1"/>
<circle cx="1446.5" cy="486.3" r="1.75" fill="#87888a" stroke="#515254" stroke-width="1.1"/>
<circle cx="1456.3" cy="394.0" r="1.75" fill="#87888a" stroke="#515254" stroke-width="1.1"/>
<circle cx="1456.3" cy="403.8" r="1.75" fill="#87888a" stroke="#515254" stroke-width="1.1"/>
<circle cx="1456.3" cy="413.5" r="1.75" fill="#87888a" stroke="#515254" stroke-width="1.1"/>
<circle cx="1456.3" cy="423.2" r="1.75" fill="#87888a" stroke="#515254" stroke-width="1.1"/>
<circle cx="1456.3" cy="432.8" r="1.75" fill="#87888a" stroke="#515254" stroke-width="1.1"/>
<circle cx="1456.3" cy="447.1" r="1.75" fill="#87888a" stroke="#515254" stroke-width="1.1"/>
<circle cx="1456.3" cy="457.0" r="1.75" fill="#87888a" stroke="#515254" stroke-width="1.1"/>
<circle cx="1456.3" cy="466.9" r="1.75" fill="#87888a" stroke="#515254" stroke-width="1.1"/>
<circle cx="1456.3" cy="476.6" r="1.75" fill="#87888a" stroke="#515254" stroke-width="1.1"/>
<circle cx="1456.3" cy="486.3" r="1.75" fill="#87888a" stroke="#515254" stroke-width="1.1"/>
<circle cx="1466.1" cy="394.0" r="1.75" fill="#87888a" stroke="#515254" stroke-width="1.1"/>
<circle cx="1466.1" cy="403.8" r="1.75" fill="#87888a" stroke="#515254" stroke-width="1.1"/>
<circle cx="1466.1" cy="413.5" r="1.75" fill="#87888a" stroke="#515254" stroke-width="1.1"/>
<circle cx="1466.1" cy="423.2" r="1.75" fill="#87888a" stroke="#515254" stroke-width="1.1"/>
<circle cx="1466.1" cy="432.8" r="1.75" fill="#87888a" stroke="#515254" stroke-width="1.1"/>
<circle cx="1466.1" cy="447.1" r="1.75" fill="#87888a" stroke="#515254" stroke-width="1.1"/>
<circle cx="1466.1" cy="457.0" r="1.75" fill="#87888a" stroke="#515254" stroke-width="1.1"/>
<circle cx="1466.1" cy="466.9" r="1.75" fill="#87888a" stroke="#515254" stroke-width="1.1"/>
<circle cx="1466.1" cy="476.6" r="1.75" fill="#87888a" stroke="#515254" stroke-width="1.1"/>
<circle cx="1466.1" cy="486.3" r="1.75" fill="#87888a" stroke="#515254" stroke-width="1.1"/>
<circle cx="1475.8" cy="394.0" r="1.75" fill="#87888a" stroke="#515254" stroke-width="1.1"/>
<circle cx="1475.8" cy="403.8" r="1.75" fill="#87888a" stroke="#515254" stroke-width="1.1"/>
<circle cx="1475.8" cy="413.5" r="1.75" fill="#87888a" stroke="#515254" stroke-width="1.1"/>
<circle cx="1475.8" cy="423.2" r="1.75" fill="#87888a" stroke="#515254" stroke-width="1.1"/>
<circle cx="1475.8" cy="432.8" r="1.75" fill="#87888a" stroke="#515254" stroke-width="1.1"/>
<circle cx="1475.8" cy="447.1" r="1.75" fill="#87888a" stroke="#515254" stroke-width="1.1"/>
<circle cx="1475.8" cy="457.0" r="1.75" fill="#87888a" stroke="#515254" stroke-width="1.1"/>
<circle cx="1475.8" cy="466.9" r="1.75" fill="#87888a" stroke="#515254" stroke-width="1.1"/>
<circle cx="1475.8" cy="476.6" r="1.75" fill="#87888a" stroke="#515254" stroke-width="1.1"/>
<circle cx="1475.8" cy="486.3" r="1.75" fill="#87888a" stroke="#515254" stroke-width="1.1"/>
<circle cx="1485.6" cy="394.0" r="1.75" fill="#87888a" stroke="#515254" stroke-width="1.1"/>
<circle cx="1485.6" cy="403.8" r="1.75" fill="#87888a" stroke="#515254" stroke-width="1.1"/>
<circle cx="1485.6" cy="413.5" r="1.75" fill="#87888a" stroke="#515254" stroke-width="1.1"/>
<circle cx="1485.6" cy="423.2" r="1.75" fill="#87888a" stroke="#515254" stroke-width="1.1"/>
<circle cx="1485.6" cy="432.8" r="1.75" fill="#87888a" stroke="#515254" stroke-width="1.1"/>
<circle cx="1485.6" cy="447.1" r="1.75" fill="#87888a" stroke="#515254" stroke-width="1.1"/>
<circle cx="1485.6" cy="457.0" r="1.75" fill="#87888a" stroke="#515254" stroke-width="1.1"/>
<circle cx="1485.6" cy="466.9" r="1.75" fill="#87888a" stroke="#515254" stroke-width="1.1"/>
<circle cx="1485.6" cy="476.6" r="1.75" fill="#87888a" stroke="#515254" stroke-width="1.1"/>
<circle cx="1485.6" cy="486.3" r="1.75" fill="#87888a" stroke="#515254" stroke-width="1.1"/>
<circle cx="1495.4" cy="394.0" r="1.75" fill="#87888a" stroke="#515254" stroke-width="1.1"/>
<circle cx="1495.4" cy="403.8" r="1.75" fill="#87888a" stroke="#515254" stroke-width="1.1"/>
<circle cx="1495.4" cy="413.5" r="1.75" fill="#87888a" stroke="#515254" stroke-width="1.1"/>
<circle cx="1495.4" cy="423.2" r="1.75" fill="#87888a" stroke="#515254" stroke-width="1.1"/>
<circle cx="1495.4" cy="432.8" r="1.75" fill="#87888a" stroke="#515254" stroke-width="1.1"/>
<circle cx="1495.4" cy="447.1" r="1.75" fill="#87888a" stroke="#515254" stroke-width="1.1"/>
<circle cx="1495.4" cy="457.0" r="1.75" fill="#87888a" stroke="#515254" stroke-width="1.1"/>
<circle cx="1495.4" cy="466.9" r="1.75" fill="#87888a" stroke="#515254" stroke-width="1.1"/>
<circle cx="1495.4" cy="476.6" r="1.75" fill="#87888a" stroke="#515254" stroke-width="1.1"/>
<circle cx="1495.4" cy="486.3" r="1.75" fill="#87888a" stroke="#515254" stroke-width="1.1"/>
<circle cx="1505.2" cy="394.0" r="1.75" fill="#87888a" stroke="#515254" stroke-width="1.1"/>
<circle cx="1505.2" cy="403.8" r="1.75" fill="#87888a" stroke="#515254" stroke-width="1.1"/>
<circle cx="1505.2" cy="413.5" r="1.75" fill="#87888a" stroke="#515254" stroke-width="1.1"/>
<circle cx="1505.2" cy="423.2" r="1.75" fill="#87888a" stroke="#515254" stroke-width="1.1"/>
<circle cx="1505.2" cy="432.8" r="1.75" fill="#87888a" stroke="#515254" stroke-width="1.1"/>
<circle cx="1505.2" cy="447.1" r="1.75" fill="#87888a" stroke="#515254" stroke-width="1.1"/>
<circle cx="1505.2" cy="457.0" r="1.75" fill="#87888a" stroke="#515254" stroke-width="1.1"/>
<circle cx="1505.2" cy="466.9" r="1.75" fill="#87888a" stroke="#515254" stroke-width="1.1"/>
<circle cx="1505.2" cy="476.6" r="1.75" fill="#87888a" stroke="#515254" stroke-width="1.1"/>
<circle cx="1505.2" cy="486.3" r="1.75" fill="#87888a" stroke="#515254" stroke-width="1.1"/>
<circle cx="1515.0" cy="394.0" r="1.75" fill="#87888a" stroke="#515254" stroke-width="1.1"/>
<circle cx="1515.0" cy="403.8" r="1.75" fill="#87888a" stroke="#515254" stroke-width="1.1"/>
<circle cx="1515.0" cy="413.5" r="1.75" fill="#87888a" stroke="#515254" stroke-width="1.1"/>
<circle cx="1515.0" cy="423.2" r="1.75" fill="#87888a" stroke="#515254" stroke-width="1.1"/>
<circle cx="1515.0" cy="432.8" r="1.75" fill="#87888a" stroke="#515254" stroke-width="1.1"/>
<circle cx="1515.0" cy="447.1" r="1.75" fill="#87888a" stroke="#515254" stroke-width="1.1"/>
<circle cx="1515.0" cy="457.0" r="1.75" fill="#87888a" stroke="#515254" stroke-width="1.1"/>
<circle cx="1515.0" cy="466.9" r="1.75" fill="#87888a" stroke="#515254" stroke-width="1.1"/>
<circle cx="1515.0" cy="476.6" r="1.75" fill="#87888a" stroke="#515254" stroke-width="1.1"/>
<circle cx="1515.0" cy="486.3" r="1.75" fill="#87888a" stroke="#515254" stroke-width="1.1"/>
<rect x="1437.0" y="387.8" width="3.2" height="104.7" fill="#626366"/>
<rect x="1355.0" y="438.5" width="167.1" height="3.2" fill="#626366"/>
<rect x="1355.0" y="387.8" width="167.1" height="104.7" fill="none" stroke="#2a2a2a" stroke-width="1.3"/>
<text x="1424.0" y="468.4" font-size="27.9" fill="#ed1c24" stroke="#ed1c24" stroke-width="0.25" text-anchor="start">50 <tspan dx="2">µ</tspan><tspan dx="3">m</tspan></text>
<rect x="1455.2" y="476.5" width="20.9" height="3.1" fill="#ed1c24"/>
<text x="21.8" y="561.2" font-size="38.9" fill="#0a0a0a" stroke="#0a0a0a" stroke-width="0.35" text-anchor="start" letter-spacing="1.1">(<tspan font-style="italic">b</tspan>)</text>
<clipPath id="cb"><rect x="76.8" y="579.0" width="525.0" height="345.29999999999995"/></clipPath>
<g clip-path="url(#cb)">
<rect x="76.8" y="579.0" width="525.0" height="345.29999999999995" fill="#535353"/>
<linearGradient id="gfl0" gradientUnits="userSpaceOnUse" x1="88" y1="903" x2="74" y2="868"><stop offset="0" stop-color="#828282"/><stop offset="0.35" stop-color="#6a6a6a"/><stop offset="1" stop-color="#505050"/></linearGradient>
<polygon points="96.6,896.0 70.0,860.7 70.0,925.0 100.0,925.0" fill="url(#gfl0)"/>
<linearGradient id="gfl1" gradientUnits="userSpaceOnUse" x1="164.2" y1="877.4" x2="72.8" y2="671.8"><stop offset="0" stop-color="#8c8c8c"/><stop offset="0.18" stop-color="#808080"/><stop offset="0.45" stop-color="#686868"/><stop offset="0.75" stop-color="#5a5a5a"/><stop offset="1" stop-color="#535353"/></linearGradient>
<polygon points="110.5,896.5 9.1,668.6 -64.6,454.7 218.0,852.3 218.0,872.3 110.5,916.5" fill="url(#gfl1)"/>
<line x1="213.0" y1="855.3" x2="-69.6" y2="457.7" stroke="#303030" stroke-width="12" opacity="0.25" filter="url(#b3)"/>
<linearGradient id="gfl2" gradientUnits="userSpaceOnUse" x1="280.9" y1="834.6" x2="209.0" y2="691.8"><stop offset="0" stop-color="#8c8c8c"/><stop offset="0.18" stop-color="#808080"/><stop offset="0.45" stop-color="#686868"/><stop offset="0.75" stop-color="#5a5a5a"/><stop offset="1" stop-color="#535353"/></linearGradient>
<polygon points="227.4,852.3 52.7,505.4 129.1,509.4 334.5,811.0 334.5,831.0 227.4,872.3" fill="url(#gfl2)"/>
<line x1="329.5" y1="814.0" x2="124.1" y2="512.4" stroke="#303030" stroke-width="12" opacity="0.25" filter="url(#b3)"/>
<linearGradient id="gfl3" gradientUnits="userSpaceOnUse" x1="398.3" y1="792.7" x2="347.8" y2="681.6"><stop offset="0" stop-color="#8c8c8c"/><stop offset="0.18" stop-color="#808080"/><stop offset="0.45" stop-color="#686868"/><stop offset="0.75" stop-color="#5a5a5a"/><stop offset="1" stop-color="#535353"/></linearGradient>
<polygon points="344.6,811.0 212.7,520.8 277.4,522.2 452.0,768.4 452.0,788.4 344.6,831.0" fill="url(#gfl3)"/>
<line x1="447.0" y1="771.4" x2="272.4" y2="525.2" stroke="#303030" stroke-width="12" opacity="0.25" filter="url(#b3)"/>
<linearGradient id="gfl4" gradientUnits="userSpaceOnUse" x1="516.9" y1="750.7" x2="483.1" y2="669.5"><stop offset="0" stop-color="#8c8c8c"/><stop offset="0.18" stop-color="#808080"/><stop offset="0.45" stop-color="#686868"/><stop offset="0.75" stop-color="#5a5a5a"/><stop offset="1" stop-color="#535353"/></linearGradient>
<polygon points="462.7,768.4 367.6,540.2 439.4,534.6 571.1,727.0 571.1,747.0 462.7,788.4" fill="url(#gfl4)"/>
<line x1="566.1" y1="730.0" x2="434.4" y2="537.6" stroke="#303030" stroke-width="12" opacity="0.25" filter="url(#b3)"/>
<linearGradient id="gfl5" gradientUnits="userSpaceOnUse" x1="595.1" y1="725.8" x2="574.7" y2="658.8"><stop offset="0" stop-color="#8c8c8c"/><stop offset="0.18" stop-color="#808080"/><stop offset="0.45" stop-color="#686868"/><stop offset="0.75" stop-color="#5a5a5a"/><stop offset="1" stop-color="#535353"/></linearGradient>
<polygon points="580.2,727.0 527.7,554.8 610.0,560.0 610.0,718.5 610.0,738.5 580.2,747.0" fill="url(#gfl5)"/>
<polygon points="96.6,808.4 36.9,721.7 36.9,816.8 96.6,896.0" fill="#a0a0a0"/>
<polygon points="110.5,806.0 9.1,668.6 36.9,720.9 96.6,808.8" fill="#c8c8c8"/>
<linearGradient id="gf218" gradientUnits="userSpaceOnUse" x1="149.6" y1="671.0" x2="99.6" y2="704.0"><stop offset="0" stop-color="#9e9e9e"/><stop offset="0.7" stop-color="#9e9e9e"/><stop offset="1" stop-color="#808080"/></linearGradient>
<polygon points="218.0,763.0 39.1,506.4 -64.6,454.7 218.0,852.3" fill="url(#gf218)"/>
<polygon points="211.0,760.5 39.1,506.4 52.7,505.4 227.4,763.0 218.0,763.5" fill="#c8c8c8"/>
<line x1="219.2" y1="762.0" x2="45.9" y2="505.9" stroke="#e4e4e4" stroke-width="3.5" opacity="0.6" filter="url(#b06)"/>
<line x1="227.4" y1="763.0" x2="52.7" y2="505.4" stroke="#3a3a3a" stroke-width="1.6" opacity="0.55"/>
<linearGradient id="gf334" gradientUnits="userSpaceOnUse" x1="283.0" y1="651.8" x2="233.0" y2="684.8"><stop offset="0" stop-color="#929292"/><stop offset="0.7" stop-color="#929292"/><stop offset="1" stop-color="#808080"/></linearGradient>
<polygon points="334.5,724.5 200.2,521.8 129.1,509.4 334.5,811.0" fill="url(#gf334)"/>
<polygon points="329.0,722.0 200.2,521.8 212.7,520.8 344.6,724.5 334.5,725.0" fill="#c2c2c2"/>
<line x1="336.8" y1="723.5" x2="206.5" y2="521.3" stroke="#e4e4e4" stroke-width="3.5" opacity="0.6" filter="url(#b06)"/>
<line x1="344.6" y1="724.5" x2="212.7" y2="520.8" stroke="#3a3a3a" stroke-width="1.6" opacity="0.55"/>
<linearGradient id="gf452" gradientUnits="userSpaceOnUse" x1="414.1" y1="627.5" x2="364.1" y2="660.5"><stop offset="0" stop-color="#969696"/><stop offset="0.7" stop-color="#969696"/><stop offset="1" stop-color="#808080"/></linearGradient>
<polygon points="452.0,676.0 353.8,541.2 277.4,522.2 452.0,768.4" fill="url(#gf452)"/>
<polygon points="447.5,673.5 353.8,541.2 367.6,540.2 462.7,676.0 452.0,676.5" fill="#c4c4c4"/>
<line x1="455.1" y1="675.0" x2="360.7" y2="540.7" stroke="#e4e4e4" stroke-width="3.5" opacity="0.6" filter="url(#b06)"/>
<line x1="462.7" y1="676.0" x2="367.6" y2="540.2" stroke="#3a3a3a" stroke-width="1.6" opacity="0.55"/>
<linearGradient id="gf571" gradientUnits="userSpaceOnUse" x1="548.0" y1="609.2" x2="498.0" y2="642.2"><stop offset="0" stop-color="#8e8e8e"/><stop offset="0.7" stop-color="#8e8e8e"/><stop offset="1" stop-color="#808080"/></linearGradient>
<polygon points="571.1,639.5 514.8,555.8 439.4,534.6 571.1,727.0" fill="url(#gf571)"/>
<polygon points="566.5,637.0 514.8,555.8 527.7,554.8 580.2,639.5 571.1,640.0" fill="#bebebe"/>
<line x1="573.4" y1="638.5" x2="521.3" y2="555.3" stroke="#e4e4e4" stroke-width="3.5" opacity="0.6" filter="url(#b06)"/>
<line x1="580.2" y1="639.5" x2="527.7" y2="554.8" stroke="#3a3a3a" stroke-width="1.6" opacity="0.55"/>
<clipPath id="cf2"><polygon points="218,763 88.2,579 60,579 60,629.8 218,852.3"/></clipPath><g clip-path="url(#cf2)" stroke="#505050" stroke-width="0.9" opacity="0.3" fill="none">
<line x1="112" y1="579" x2="112" y2="860"/>
<line x1="126" y1="579" x2="126" y2="860"/>
<line x1="131" y1="579" x2="131" y2="860"/>
<line x1="146" y1="579" x2="146" y2="860"/>
<line x1="150" y1="579" x2="150" y2="860"/>
<line x1="163" y1="579" x2="163" y2="860"/>
<line x1="178" y1="579" x2="178" y2="860"/>
<line x1="192" y1="579" x2="192" y2="860"/>
<line x1="218" y1="781" x2="58.2" y2="549.1"/>
<line x1="218" y1="799" x2="58.2" y2="563.5"/>
<line x1="218" y1="817" x2="58.2" y2="577.9000000000001"/>
<line x1="218" y1="835" x2="58.2" y2="592.3000000000001"/>
</g>
<linearGradient id="gdk" x1="0" y1="0" x2="0" y2="1"><stop offset="0" stop-color="#444"/><stop offset="1" stop-color="#404040"/></linearGradient>
<path d="M76.8,911 L97,897.5 L110.5,895 Q167,892 218,856.8 L227.6,852.6 Q286,845 334.5,812 L344.6,810.2 Q403,803.5 452,768.8 L462.7,768.6 Q523,759 571.1,727.4 L580.2,727.2 L601.8,721 L601.8,925 L76.8,925 Z" fill="url(#gdk)"/>
<path d="M76.8,910.5 L97,897 M110.8,894.3 Q167,891.3 218,856.2 M227.6,852 Q286,844.4 334.5,811.4 M344.6,809.6 Q403,802.9 452,768.2 M462.7,768 Q523,758.4 571.1,726.8 M580.2,726.6 L601.8,720.4" fill="none" stroke="#a8a8a8" stroke-width="1.6" opacity="0.8"/>
<linearGradient id="gend" x1="0" y1="0" x2="1" y2="0"><stop offset="0" stop-color="#8c8c8c"/><stop offset="0.2" stop-color="#4e4e4e"/><stop offset="0.62" stop-color="#585858"/><stop offset="0.8" stop-color="#c6c6c6"/><stop offset="1" stop-color="#8c8c8c"/></linearGradient>
<rect x="97.0" y="807.5" width="13.5" height="89.0" fill="url(#gend)"/>
<rect x="218.0" y="763.0" width="9.4" height="89.3" fill="url(#gend)"/>
<rect x="334.5" y="724.5" width="10.1" height="86.5" fill="url(#gend)"/>
<rect x="452.0" y="676.0" width="10.7" height="92.4" fill="url(#gend)"/>
<rect x="571.1" y="639.5" width="9.1" height="87.5" fill="url(#gend)"/>
<rect x="76.8" y="579.0" width="525.0" height="345.29999999999995" filter="url(#grain)" opacity="0.19" style="mix-blend-mode:overlay"/>
</g>
<clipPath id="ca1"><polygon points="175.1,649.5 158.3,622.5 165.1,618.4 148.7,614.3 144.8,630.7 151.6,626.6 168.3,653.7"/></clipPath>
<polygon points="175.1,649.5 158.3,622.5 165.1,618.4 148.7,614.3 144.8,630.7 151.6,626.6 168.3,653.7" fill="none" stroke="#fff200" stroke-width="5.0" stroke-linejoin="miter" stroke-miterlimit="10" clip-path="url(#ca1)"/>
<clipPath id="ca2"><polygon points="370.6,638.1 400.7,627.9 403.4,635.7 411.6,620.2 395.5,612.7 398.2,620.5 368.0,630.7"/></clipPath>
<polygon points="370.6,638.1 400.7,627.9 403.4,635.7 411.6,620.2 395.5,612.7 398.2,620.5 368.0,630.7" fill="none" stroke="#fff200" stroke-width="5.0" stroke-linejoin="miter" stroke-miterlimit="10" clip-path="url(#ca2)"/>
<text x="180.8" y="622.9" font-size="28.6" fill="#fff200" stroke="#fff200" stroke-width="0.35" text-anchor="start">Water flow</text>
<text x="180.2" y="658.2" font-size="28.6" fill="#fff200" stroke="#fff200" stroke-width="0.35" text-anchor="start">on LT</text>
<text x="423.8" y="623.7" font-size="28.6" fill="#fff200" stroke="#fff200" stroke-width="0.35" text-anchor="start">Water flow</text>
<text x="423.0" y="658.5" font-size="28.6" fill="#fff200" stroke="#fff200" stroke-width="0.35" text-anchor="start">on TT</text>
<line x1="238.3724916930957" y1="848.3133971458091" x2="323.9275083069043" y2="816.4866028541909" stroke="#fff" stroke-width="2.8"/>
<polygon points="229.00,851.80 242.96,839.14 241.14,847.28 247.84,852.26" fill="#fff"/>
<polygon points="333.30,813.00 319.34,825.66 321.16,817.52 314.46,812.54" fill="#fff"/>
<line x1="355.21094974504354" y1="807.1185764985341" x2="451.8890502549565" y2="772.3814235014659" stroke="#fff" stroke-width="2.8"/>
<polygon points="345.80,810.50 359.90,797.99 357.99,806.12 364.64,811.17" fill="#fff"/>
<polygon points="461.30,769.00 447.20,781.51 449.11,773.38 442.46,768.33" fill="#fff"/>
<line x1="334.0" y1="736.5" x2="334.0" y2="800.5" stroke="#fff" stroke-width="2.8"/>
<polygon points="334.00,726.50 341.00,744.00 334.00,739.45 327.00,744.00" fill="#fff"/>
<polygon points="334.00,810.50 327.00,793.00 334.00,797.55 341.00,793.00" fill="#fff"/>
<text x="268.5" y="825.1" font-size="28.6" fill="#fff" stroke="#fff" stroke-width="0.35" text-anchor="start" font-style="italic">w</text>
<text x="307.0" y="785.0" font-size="28.6" fill="#fff" stroke="#fff" stroke-width="0.35" text-anchor="start" font-style="italic">d</text>
<text x="395.5" y="778.5" font-size="28.6" fill="#fff" stroke="#fff" stroke-width="0.35" text-anchor="start" font-style="italic">p</text>
<text x="182.4" y="897.0" font-size="28.6" fill="#fff" stroke="#fff" stroke-width="0.35" text-anchor="start">50 <tspan dx="2">µ</tspan><tspan dx="1.5">m</tspan></text>
<rect x="178.8" y="907.1" width="86.1" height="8.7" fill="#fff"/>
<rect x="457.4" y="675.4" width="11.3" height="11.1" fill="none" stroke="#1a1718" stroke-width="2.4"/>
<line x1="463.0" y1="687.5" x2="510.0" y2="755.0" stroke="#1a1718" stroke-width="2.5"/>
<clipPath id="cbi"><rect x="509.8" y="755.8" width="251.0" height="166.8"/></clipPath>
<g clip-path="url(#cbi)">
<linearGradient id="gbi" x1="0" y1="0" x2="1" y2="1"><stop offset="0" stop-color="#626262"/><stop offset="1" stop-color="#505050"/></linearGradient>
<rect x="509.8" y="755.8" width="251.0" height="166.8" fill="url(#gbi)"/>
<radialGradient id="gbb" gradientUnits="userSpaceOnUse" cx="600" cy="850" r="120"><stop offset="0" stop-color="#e2e2e2"/><stop offset="0.5" stop-color="#d4d4d4"/><stop offset="1" stop-color="#bcbcbc"/></radialGradient>
<path d="M500,750 L611,750 L615.5,757 C622,765 626,770 629.7,775.4 C634,783 637,789 639.8,795.6 C642,802 644,809 645.9,815.9 C648,824 651,830 653,836.2 C655,842 657,846 655,848.3 C651,852 646,854 641.8,855.4 C634,858 623,859 621.6,862.5 C620,866 623,868 624.6,870.6 C628,877 633,882 633.7,886.8 C634,892 630,898 629.7,903 C629,910 632,916 632.7,921.3 L633,930 L500,930 Z" fill="#b0b0b0" filter="url(#b3)" opacity="0.7"/>
<path d="M500,750 L611,750 L615.5,757 C622,765 626,770 629.7,775.4 C634,783 637,789 639.8,795.6 C642,802 644,809 645.9,815.9 C648,824 651,830 653,836.2 C655,842 657,846 655,848.3 C651,852 646,854 641.8,855.4 C634,858 623,859 621.6,862.5 C620,866 623,868 624.6,870.6 C628,877 633,882 633.7,886.8 C634,892 630,898 629.7,903 C629,910 632,916 632.7,921.3 L633,930 L500,930 Z" fill="url(#gbb)" filter="url(#b1)"/>
<mask id="mbi"><ellipse cx="560" cy="790" rx="72" ry="52" fill="#fff" filter="url(#b3)"/></mask>
<g mask="url(#mbi)"><rect x="509.8" y="755.8" width="140" height="110" fill="#aaa" opacity="0.35"/>
<path d="M587.9,826.5 l0.9,3.9 M602.5,843.6 l-1.4,2.7 M627.9,817.7 l1.2,1.8 M568.6,779.4 l0.1,2.9 M511.6,776.6 l-0.7,3.8 M605.7,771.2 l0.9,1.8 M587.2,768.0 l-1.5,3.7 M536.2,776.5 l1.4,3.7 M546.2,847.3 l0.1,3.2 M535.6,845.4 l0.6,3.9 M621.7,784.4 l-0.4,1.9 M528.2,762.2 l-0.6,3.0 M510.4,820.4 l-0.5,2.3 M612.3,801.7 l-0.6,2.7 M598.1,761.4 l1.4,1.6 M603.7,836.3 l-1.4,3.5 M555.8,811.0 l-1.5,1.6 M532.6,846.7 l-0.9,3.4 M626.2,845.5 l-0.5,2.4 M575.6,829.7 l-1.2,3.4 M609.7,837.7 l-1.4,3.9 M521.4,788.4 l0.3,3.8 M552.5,843.8 l0.1,2.3 M549.6,772.9 l-1.3,1.9 M596.1,850.7 l-1.0,1.6 M633.3,806.7 l-0.3,2.1 M584.2,834.5 l-0.1,2.6 M517.0,843.0 l-1.4,2.7 M614.8,768.4 l0.7,3.9 M588.8,830.9 l-1.2,2.6 M528.7,836.2 l-0.6,2.6 M634.9,837.0 l1.4,2.6 M571.0,825.3 l-0.1,2.2 M560.5,769.9 l-0.4,4.0 M630.0,815.6 l-0.0,2.3 M521.1,781.9 l0.8,3.7 M555.2,830.7 l0.8,3.2 M593.0,828.2 l-0.4,3.3 M545.1,802.1 l0.8,3.2 M546.7,845.8 l0.4,3.0 M511.4,808.0 l-0.7,3.2 M567.9,833.6 l0.4,3.5 M553.5,817.2 l0.7,3.6 M553.8,836.1 l1.1,3.2 M632.0,846.9 l0.1,2.8 M530.8,835.5 l1.3,2.7 M596.4,824.4 l0.7,1.9 M607.5,811.2 l0.5,2.6 M588.0,829.6 l0.4,3.3 M513.5,771.2 l-0.2,3.1 M537.4,821.2 l0.4,1.6 M568.9,777.5 l-1.3,1.8 M549.7,773.2 l-0.9,1.6 M568.2,792.1 l0.3,3.0 M539.7,841.8 l-1.5,2.5 M544.8,795.0 l-1.2,3.6 M556.7,759.4 l0.3,1.7 M578.2,788.2 l0.2,3.9 M612.3,795.8 l0.9,3.1 M556.2,769.5 l0.3,2.9 M629.7,848.0 l0.3,2.4 M621.7,756.1 l-1.2,2.9 M586.9,769.4 l0.4,3.7 M557.0,797.0 l-0.8,2.2 M631.6,792.1 l1.4,3.8 M584.5,780.7 l1.4,2.7 M561.9,786.3 l1.5,2.7 M545.8,801.3 l-1.1,3.1 M565.4,783.8 l0.8,3.6 M511.7,806.6 l-0.7,3.8 M607.7,779.3 l-0.7,1.9 M633.6,783.9 l0.3,2.7 M590.6,813.4 l0.7,1.8 M605.0,784.6 l0.1,2.3 M547.1,806.3 l-0.1,2.4 M603.1,812.1 l-1.4,2.1 M567.0,843.1 l1.2,2.9 M511.8,829.9 l-0.2,2.9 M598.5,816.1 l-0.1,3.8 M558.2,793.2 l1.1,2.0 M547.1,834.9 l-1.3,3.6 M596.8,797.1 l-0.6,3.5 M623.8,769.6 l-0.1,2.9 M572.2,787.4 l-1.0,3.0 M611.5,762.5 l-0.8,3.5 M609.0,819.0 l-1.4,3.3 M632.3,850.8 l0.6,1.6 M615.3,776.8 l0.4,3.9 M599.1,768.8 l-0.6,3.8 M528.7,814.0 l-0.3,1.9 M587.8,760.1 l-1.2,2.4 M519.0,761.5 l0.2,3.4 M619.8,768.8 l-0.2,2.3 M585.0,802.5 l1.3,2.4 M517.0,822.2 l-1.0,3.1 M573.2,842.5 l0.2,3.1 M542.9,808.4 l-0.7,3.4 M574.6,768.7 l-0.8,2.4 M602.1,773.0 l0.6,3.1 M520.7,819.5 l-1.2,1.8 M584.2,778.7 l1.1,2.7 M550.4,831.7 l-1.4,3.3 M516.7,770.3 l1.4,3.2 M537.9,767.0 l1.4,3.2 M612.6,769.3 l0.4,2.4 M539.4,787.7 l0.3,2.4 M558.2,769.0 l1.0,3.1 M610.6,797.2 l1.1,2.8 M584.1,810.5 l0.7,2.5 M522.1,759.2 l-0.9,1.6 M621.2,801.7 l0.8,1.5 M568.8,840.5 l0.4,2.6 M568.2,765.5 l-1.0,1.9 M556.8,792.6 l1.1,1.9 M541.8,782.4 l-1.0,2.2 M539.4,801.8 l-1.4,3.8 M556.1,845.1 l0.6,3.2 M569.0,845.8 l-1.1,3.2 M546.4,820.1 l0.7,1.9 M535.1,758.4 l-0.8,1.7 M560.1,848.5 l-0.4,2.3 M568.5,782.9 l0.7,3.3 M530.4,778.9 l0.5,3.9 M590.7,796.9 l1.4,1.5 M517.6,830.0 l-0.3,1.6 M578.6,850.0 l0.1,2.4 M521.7,762.8 l1.2,2.7 M627.0,761.1 l-0.8,1.6 M559.7,761.7 l-0.7,2.5 M548.2,760.9 l-1.4,3.9 M532.4,804.3 l-0.3,2.8 M520.5,785.8 l-1.2,2.9 M625.2,812.8 l1.1,2.0 M512.2,807.3 l-0.0,2.9 M557.1,815.4 l0.7,3.8 M548.5,798.7 l1.0,2.1 M524.5,785.6 l-1.2,3.4 M612.4,785.7 l-1.1,1.7 M540.6,764.0 l-0.2,2.9 M540.7,761.8 l0.6,1.6 M535.0,783.2 l-0.4,1.7 M562.6,785.8 l0.8,2.9 M622.0,818.1 l0.8,2.9 M565.3,833.6 l0.5,3.9 M601.0,822.6 l-0.7,3.5 M557.8,768.4 l-1.3,1.9 M542.8,820.2 l-0.6,1.7 M605.5,808.9 l-1.4,1.6 M526.3,789.9 l1.1,3.9 M586.5,778.0 l-0.2,2.4 M551.3,757.2 l0.3,3.6 M600.9,765.1 l0.1,1.9 M598.7,798.4 l1.3,3.5 M524.8,786.1 l1.2,2.7 M564.3,797.9 l0.8,3.8 M576.6,848.1 l0.3,1.8 M611.8,795.8 l-1.3,3.9 M514.1,810.8 l-0.1,3.7 M559.1,776.5 l-0.7,2.0 M580.3,789.9 l0.8,2.1 M554.0,779.6 l1.4,3.6 M616.2,814.7 l-0.3,1.9 M614.0,802.6 l-1.4,1.9 M522.3,824.2 l1.2,2.0 M609.6,786.8 l0.5,3.7 M587.9,832.0 l-0.4,1.5 M574.0,811.7 l-0.9,2.5 M549.7,758.6 l-0.6,2.5 M569.5,822.8 l-0.3,4.0 M611.9,843.8 l0.6,3.2 M577.1,831.9 l-0.4,3.0 M594.9,805.6 l-0.6,1.7 M520.9,789.8 l0.2,3.4 M599.3,785.1 l1.3,2.2 M599.5,762.8 l0.8,3.2 M629.6,841.2 l0.6,3.6 M602.3,814.0 l-0.9,2.8 M622.0,778.7 l1.4,2.9 M559.2,756.3 l-0.3,1.9 M591.6,841.5 l1.2,3.0 M558.3,766.3 l0.6,2.9 M599.4,791.5 l1.2,2.0 M548.2,781.4 l0.4,3.7 M530.9,816.1 l0.8,2.1 M517.8,809.8 l1.0,3.7 M601.0,795.6 l-0.2,2.8 M623.1,784.7 l-0.7,3.0 M630.8,773.8 l-1.4,1.8 M580.3,813.3 l-0.9,2.0 M584.3,817.4 l0.6,3.3 M517.7,802.0 l1.0,3.9 M549.8,836.8 l0.4,3.8 M538.6,822.2 l1.0,2.7 M522.6,774.4 l-1.0,1.7 M529.0,814.5 l-1.2,3.4 M602.0,833.6 l0.9,3.3 M625.5,846.9 l0.4,3.9 M522.9,765.8 l-1.3,2.0 M556.8,799.6 l0.5,3.4 M520.5,794.3 l0.1,2.4 M524.7,812.7 l-0.4,3.2 M571.9,847.5 l1.3,1.7 M605.0,824.5 l-0.6,1.8 M569.9,789.6 l0.7,3.8 M557.8,783.6 l-0.0,3.2 M608.6,810.7 l-0.6,2.3 M616.0,805.3 l-1.3,2.6 M539.7,819.3 l-1.3,2.2 M522.0,801.4 l1.5,2.9 M558.3,844.7 l-1.2,2.4 M611.3,756.5 l0.8,2.4 M512.1,779.8 l-0.1,2.5 M574.6,761.0 l-0.8,3.9 M565.3,800.8 l-1.2,2.2 M629.3,821.3 l0.0,1.6 M559.1,830.0 l-0.2,3.0 M622.8,817.3 l0.4,1.6 M513.0,829.1 l-0.3,3.7 M613.2,843.0 l-0.4,4.0 M604.5,840.7 l-1.1,3.5 M562.8,848.3 l1.5,2.0 M562.7,781.7 l-0.1,2.2 M593.3,767.7 l-1.0,2.6 M519.2,792.2 l1.2,3.7 M534.6,757.8 l1.0,3.9 M584.9,769.0 l-0.8,3.8 M627.2,759.0 l-0.9,2.6 M543.3,827.6 l-0.4,3.4 M529.0,805.2 l1.4,3.3 M521.3,766.5 l0.4,2.4 M556.1,801.4 l0.2,3.9 M540.1,810.0 l-0.7,2.9 M601.4,768.7 l-0.1,3.3 M511.0,829.3 l-0.2,2.8 M586.3,831.3 l-1.3,2.8 M514.8,792.6 l-0.5,1.6 M547.2,798.8 l0.5,3.8 M556.3,806.4 l0.6,3.8 M628.7,849.9 l-0.6,1.9 M626.5,763.4 l-0.2,3.3 M576.1,792.9 l1.3,2.2 M579.0,834.8 l-1.1,2.4 M571.8,809.8 l-0.9,2.6 M517.5,764.4 l-0.5,1.9 M630.9,781.0 l-0.7,3.5 M602.6,780.9 l1.0,3.1 M558.6,815.7 l-0.8,2.2 M619.6,797.7 l1.2,1.9 M527.2,760.9 l0.7,2.9 M511.2,760.1 l1.0,2.7 M618.9,759.8 l0.3,1.8 M600.1,814.1 l0.3,2.1 M628.6,766.5 l-1.3,3.2 M521.6,762.3 l-0.1,3.1 M621.5,824.5 l-1.3,3.1 M615.5,767.4 l0.8,2.1 M547.3,756.1 l0.8,2.8 M622.7,800.2 l-1.0,2.0 M542.9,845.9 l-0.9,1.7 M554.1,763.5 l-0.2,3.1 M591.3,772.6 l-1.1,2.7 M595.9,798.5 l0.2,3.8 M528.1,781.4 l-0.0,2.8 M622.5,808.8 l0.5,2.5 M608.0,835.4 l-0.6,1.8 M542.4,790.0 l1.2,2.2 M588.7,816.9 l1.4,1.8 M606.2,788.0 l-1.2,3.1 M615.5,811.3 l-1.4,3.9 M558.0,816.4 l0.7,2.2 M561.0,787.3 l-1.2,1.7 M599.6,795.0 l1.1,1.7 M547.7,773.1 l1.3,3.5 M622.0,804.1 l-1.2,2.5 M538.3,758.6 l0.2,2.2 M523.5,804.6 l1.3,3.9 M568.3,765.8 l0.8,1.8 M577.2,764.0 l1.5,2.9 M564.7,781.9 l0.2,3.9 M563.5,775.9 l0.0,3.8 M557.7,816.2 l1.3,2.3 M611.4,806.3 l-1.1,1.6 M627.4,800.3 l-0.2,3.8 M581.7,803.5 l-0.6,3.4 M542.0,800.7 l0.8,3.0 M526.8,775.3 l0.6,3.3 M522.8,850.8 l-1.1,1.9 M521.2,798.4 l0.4,3.6 M530.4,822.4 l-1.2,3.0 M541.5,789.8 l-1.3,3.3 M525.3,828.6 l-0.5,3.0 M589.9,802.4 l1.1,3.8 M545.3,787.7 l1.1,1.8 M562.5,795.4 l1.4,1.8 M591.9,827.9 l0.7,1.5 M628.0,785.7 l1.1,3.2 M562.6,835.6 l0.5,2.3 M601.5,804.0 l0.6,3.0 M609.5,771.1 l-0.0,1.5 M608.9,829.3 l1.0,1.6 M576.9,801.5 l-1.1,2.0 M631.8,837.0 l-0.8,3.6 M591.4,792.6 l0.4,2.1 M544.2,757.0 l0.5,3.0 M602.9,803.9 l-0.2,2.3 M601.9,791.4 l0.3,3.4 M565.6,821.2 l-1.3,2.2 M615.1,770.0 l-1.3,1.5 M605.8,766.1 l-0.1,2.6 M610.4,801.3 l0.1,1.6 M609.4,828.9 l0.4,3.6 M586.8,824.0 l1.1,3.0 M512.5,840.0 l1.5,2.0 M518.3,788.3 l-1.2,2.4 M521.1,776.9 l-1.5,2.6 M547.5,825.2 l-0.3,1.9 M629.2,841.0 l0.6,2.0 M560.3,798.8 l-0.3,1.6 M567.0,828.9 l0.6,3.7 M595.4,828.5 l1.1,3.8 M609.1,795.5 l0.5,3.1 M620.3,823.8 l-0.2,2.0 M550.9,779.8 l0.5,3.4 M534.0,806.7 l1.0,2.4 M521.8,813.5 l-0.4,1.9 M546.0,756.7 l-1.1,2.6 M523.1,756.6 l0.1,3.9 M614.3,787.0 l1.3,1.7 M528.8,756.6 l-1.3,3.0 M604.6,801.4 l0.9,2.6 M624.8,813.8 l0.1,1.9 M563.3,797.8 l1.0,2.1 M546.8,833.6 l-1.3,2.8 M537.5,819.2 l0.3,1.7 M601.3,794.7 l-0.5,3.6 M607.3,785.4 l0.5,1.8 M574.9,763.8 l0.4,3.8 M589.5,759.9 l0.0,2.7 M565.4,770.4 l-0.7,2.6 M518.9,820.1 l-0.8,2.2 M521.4,784.7 l1.3,2.2 M522.0,788.8 l1.3,1.7 M552.8,775.9 l0.5,2.7 M522.3,837.9 l-0.5,3.2 M566.6,838.8 l-1.3,2.1 M545.7,781.1 l1.0,2.8 M553.3,804.2 l1.0,2.9 M566.4,818.4 l0.3,2.5 M563.3,768.5 l-0.2,3.7 M548.3,790.7 l0.3,3.0 M531.9,798.4 l0.7,1.6 M523.6,827.8 l1.2,1.7 M520.2,815.5 l-0.6,3.1 M514.3,799.4 l-1.0,2.3 M596.7,804.5 l1.1,3.6 M587.4,836.5 l-1.0,2.7 M549.9,815.4 l-1.2,3.7 M556.3,830.5 l1.3,3.9 M558.8,837.4 l1.5,1.8 M603.4,825.1 l-0.1,2.2 M531.7,795.1 l1.3,2.5 M541.9,814.8 l-0.2,3.0 M566.8,783.2 l-1.4,3.5 M592.4,779.2 l-0.0,3.0 M572.9,841.6 l0.8,2.3 M552.3,814.1 l-1.0,3.8 M515.7,803.5 l-0.7,2.8 M515.7,777.3 l1.5,3.5 M537.6,799.3 l-1.4,1.8 M534.0,849.5 l-0.6,2.1 M518.2,766.4 l1.5,3.4 M625.0,835.4 l0.8,2.1 M531.1,781.6 l-1.3,1.9 M600.0,802.6 l-1.5,2.3 M616.2,836.8 l0.7,3.3 M624.0,808.9 l-0.4,2.9 M545.3,759.5 l-0.7,2.6 M525.0,763.7 l-0.8,2.4 M629.6,802.3 l1.0,3.4 M584.0,786.6 l-0.3,2.3 M589.3,837.2 l0.9,2.2 M528.7,756.8 l0.3,2.1 M510.7,784.7 l-0.8,2.0 M593.0,811.5 l-0.7,3.3 M535.8,843.5 l-1.1,3.0 M598.1,825.6 l-0.0,3.7 M588.6,821.6 l-1.3,2.0 M568.2,807.8 l-1.2,3.4 M553.3,801.1 l0.1,3.6 M547.8,809.2 l0.3,3.1 M549.0,782.5 l-0.1,3.0 M590.6,768.7 l-0.2,2.9 M534.3,765.7 l1.3,1.6 M572.3,784.0 l-1.4,2.2 M530.2,794.0 l1.2,1.7 M554.0,822.0 l0.4,1.6 M538.6,782.7 l1.2,2.6 M542.2,801.6 l-0.0,1.9 M593.4,824.5 l-0.1,2.8 M606.3,846.9 l0.3,1.6 M573.1,818.9 l-0.5,3.2 M556.0,814.6 l0.3,3.2 M625.7,823.2 l0.6,3.3 M538.8,814.3 l0.4,1.7 M604.3,777.5 l-0.0,2.8 M600.3,828.7 l-0.1,3.8 M565.4,809.8 l1.5,2.3 M599.3,846.9 l-1.2,3.4 M591.5,807.3 l0.9,3.6 M528.3,802.2 l0.3,3.2 M629.8,832.3 l1.0,1.7 M563.3,842.8 l1.3,3.4 M551.7,829.1 l0.1,3.2 M589.7,838.2 l0.6,3.9 M571.7,802.9 l0.5,2.9 M516.1,847.1 l-0.5,2.7 M515.3,774.1 l1.3,2.2 M547.3,833.1 l-0.8,3.2 M581.0,841.2 l-0.1,2.3 M542.4,790.6 l-1.5,1.8" stroke="#e6e6e6" stroke-width="1.3" opacity="0.55" fill="none" filter="url(#b06)"/></g>
<clipPath id="cshape"><path d="M500,750 L611,750 L615.5,757 C622,765 626,770 629.7,775.4 C634,783 637,789 639.8,795.6 C642,802 644,809 645.9,815.9 C648,824 651,830 653,836.2 C655,842 657,846 655,848.3 C651,852 646,854 641.8,855.4 C634,858 623,859 621.6,862.5 C620,866 623,868 624.6,870.6 C628,877 633,882 633.7,886.8 C634,892 630,898 629.7,903 C629,910 632,916 632.7,921.3 L633,930 L500,930 Z"/></clipPath>
<g clip-path="url(#cshape)"><path d="M512.0,923 L550.0,862.0 M519.5,923 L559.5,863.5 M527.0,923 L569.0,865.0 M534.5,923 L578.5,866.5 M542.0,923 L588.0,868.0 M549.5,923 L597.5,869.5 M557.0,923 L607.0,871.0 M564.5,923 L616.5,872.5 M572.0,923 L626.0,874.0 M579.5,923 L635.5,875.5 M587.0,923 L645.0,877.0" stroke="#b0b0b0" stroke-width="1.6" opacity="0.3" fill="none" filter="url(#b1)"/></g>
<rect x="509.8" y="755.8" width="251.0" height="166.8" filter="url(#grain)" opacity="0.22" style="mix-blend-mode:overlay"/>
</g>
<rect x="509.8" y="755.8" width="251.0" height="166.8" fill="none" stroke="#262324" stroke-width="2.6"/>
<text x="654.6" y="788.0" font-size="29" fill="#fff" stroke="#fff" stroke-width="0.35" text-anchor="start">500 nm</text>
<rect x="690.0" y="800.1" width="40.6" height="8.7" fill="#fff"/>
<text x="808.4" y="560.6" font-size="38.9" fill="#0a0a0a" stroke="#0a0a0a" stroke-width="0.35" text-anchor="start" letter-spacing="1.2">(<tspan font-style="italic">c</tspan>)</text>
<clipPath id="cc"><rect x="858.1" y="579.3" width="525.2" height="345.9"/></clipPath>
<g clip-path="url(#cc)">
<linearGradient id="gcbg" x1="0" y1="1" x2="1" y2="0"><stop offset="0" stop-color="#4a4a4a"/><stop offset="1" stop-color="#515151"/></linearGradient>
<rect x="858.1" y="579.3" width="525.2" height="345.9" fill="url(#gcbg)"/>
<linearGradient id="gpb" x1="0" y1="0" x2="1" y2="0">
<stop offset="0" stop-color="#c4c4c4"/><stop offset="0.045" stop-color="#e2e2e2"/><stop offset="0.12" stop-color="#a8a8a8"/><stop offset="0.25" stop-color="#818181"/>
<stop offset="0.5" stop-color="#6c6c6c"/><stop offset="0.78" stop-color="#717171"/><stop offset="0.9" stop-color="#8e8e8e"/><stop offset="0.96" stop-color="#d0d0d0"/><stop offset="1" stop-color="#adadad"/></linearGradient>
<linearGradient id="gpt" x1="0" y1="0" x2="0" y2="1"><stop offset="0" stop-color="#6c6c6c"/><stop offset="1" stop-color="#7a7a7a"/></linearGradient>
<g id="post">
 <ellipse cx="2" cy="77.6" rx="17.2" ry="10.3" fill="#2b2b2b" opacity="0.75" filter="url(#b2)"/>
 <path d="M-14.2,0 V74.6 A14.2,7.8 0 0 0 14.2,74.6 V0 Z" fill="url(#gpb)"/>
 <path d="M-14.2,40.7 A14.2,5.5 0 0 0 14.2,40.7" fill="none" stroke="#585858" stroke-width="1.5" opacity="0.45"/>
 <path d="M-14.2,43.1 A14.2,5.5 0 0 0 14.2,43.1" fill="none" stroke="#a0a0a0" stroke-width="1.1" opacity="0.35"/>
 <ellipse cx="0" cy="0" rx="14.2" ry="9.3" fill="url(#gpt)"/>
 <path d="M-13.7,0.5 A13.7,8.8 0 0 0 13.7,0.5" fill="none" stroke="#d0d0d0" stroke-width="2.4" filter="url(#b06)"/>
 <path d="M-13.7,0 A13.7,8.8 0 0 1 13.7,0" fill="none" stroke="#b0b0b0" stroke-width="1.7" filter="url(#b06)"/>
</g>
<use href="#post" x="1034.0" y="495.3"/>
<use href="#post" x="849.8" y="501.7"/>
<use href="#post" x="1329.5" y="510.0"/>
<use href="#post" x="1145.3" y="516.5"/>
<use href="#post" x="961.2" y="522.9"/>
<use href="#post" x="1256.6" y="537.7"/>
<use href="#post" x="1072.5" y="544.1"/>
<use href="#post" x="888.3" y="550.6"/>
<use href="#post" x="1368.0" y="558.9"/>
<use href="#post" x="1183.8" y="565.3"/>
<use href="#post" x="999.6" y="571.8"/>
<use href="#post" x="1295.1" y="586.5"/>
<use href="#post" x="1111.0" y="593.0"/>
<use href="#post" x="926.8" y="599.4"/>
<use href="#post" x="1222.3" y="614.2"/>
<use href="#post" x="1038.1" y="620.6"/>
<use href="#post" x="853.9" y="627.1"/>
<use href="#post" x="1333.6" y="635.4"/>
<use href="#post" x="1149.4" y="641.8"/>
<use href="#post" x="965.3" y="648.3"/>
<use href="#post" x="1260.8" y="663.0"/>
<use href="#post" x="1076.6" y="669.5"/>
<use href="#post" x="892.4" y="675.9"/>
<use href="#post" x="1372.1" y="684.2"/>
<use href="#post" x="1187.9" y="690.7"/>
<use href="#post" x="1003.7" y="697.1"/>
<use href="#post" x="1299.2" y="711.9"/>
<use href="#post" x="1115.1" y="718.3"/>
<use href="#post" x="930.9" y="724.8"/>
<use href="#post" x="1226.4" y="739.5"/>
<use href="#post" x="1042.2" y="746.0"/>
<use href="#post" x="858.0" y="752.4"/>
<use href="#post" x="1337.7" y="760.7"/>
<use href="#post" x="1153.5" y="767.2"/>
<use href="#post" x="969.4" y="773.6"/>
<use href="#post" x="1264.9" y="788.4"/>
<use href="#post" x="1080.7" y="794.8"/>
<use href="#post" x="896.5" y="801.3"/>
<use href="#post" x="1376.2" y="809.6"/>
<use href="#post" x="1192.0" y="816.0"/>
<use href="#post" x="1007.8" y="822.5"/>
<use href="#post" x="1303.3" y="837.2"/>
<use href="#post" x="1119.2" y="843.7"/>
<use href="#post" x="935.0" y="850.1"/>
<use href="#post" x="1230.5" y="864.9"/>
<use href="#post" x="1046.3" y="871.3"/>
<use href="#post" x="862.1" y="877.8"/>
<use href="#post" x="1341.8" y="886.1"/>
<use href="#post" x="1157.6" y="892.5"/>
<use href="#post" x="973.5" y="899.0"/>
<use href="#post" x="1269.0" y="913.7"/>
<use href="#post" x="1084.8" y="920.2"/>
<use href="#post" x="900.6" y="926.6"/>
<use href="#post" x="1380.3" y="934.9"/>
<line x1="1372.4" y1="664.5" x2="1373.0" y2="676.5" stroke="#c8c8c8" stroke-width="1.2"/>
<rect x="858.1" y="579.3" width="525.2" height="345.9" filter="url(#grain)" opacity="0.15" style="mix-blend-mode:overlay"/>
</g>
<clipPath id="ca3"><polygon points="950.8,685.5 931.5,659.6 938.4,654.7 921.3,651.8 918.3,669.2 925.2,664.3 944.4,690.1"/></clipPath>
<polygon points="950.8,685.5 931.5,659.6 938.4,654.7 921.3,651.8 918.3,669.2 925.2,664.3 944.4,690.1" fill="none" stroke="#fff200" stroke-width="5.0" stroke-linejoin="miter" stroke-miterlimit="10" clip-path="url(#ca3)"/>
<text x="987.4" y="656.1" font-size="28.6" fill="#fff200" stroke="#fff200" stroke-width="0.35" text-anchor="start">Water flow</text>
<text x="985.8" y="691.6" font-size="28.6" fill="#fff200" stroke="#fff200" stroke-width="0.35" text-anchor="start">on AP</text>
<line x1="1104.301787023066" y1="788.7289295597169" x2="1156.898212976934" y2="767.971070440283" stroke="#fff" stroke-width="2.8"/>
<polygon points="1095.00,792.40 1108.71,779.46 1107.05,787.65 1113.85,792.49" fill="#fff"/>
<polygon points="1166.20,764.30 1152.49,777.24 1154.15,769.05 1147.35,764.21" fill="#fff"/>
<line x1="1178.0323598425111" y1="758.7073603339763" x2="1203.2676401574888" y2="748.9926396660236" stroke="#fff" stroke-width="2.8"/>
<polygon points="1168.70,762.30 1182.52,749.48 1180.79,757.65 1187.55,762.55" fill="#fff"/>
<polygon points="1212.60,745.40 1198.78,758.22 1200.51,750.05 1193.75,745.15" fill="#fff"/>
<line x1="1220.6" y1="761.0" x2="1220.6" y2="810.0" stroke="#fff" stroke-width="2.8"/>
<polygon points="1220.60,751.00 1227.60,768.50 1220.60,763.95 1213.60,768.50" fill="#fff"/>
<polygon points="1220.60,820.00 1213.60,802.50 1220.60,807.05 1227.60,802.50" fill="#fff"/>
<text x="1111.0" y="768.3" font-size="28.6" fill="#fff" stroke="#fff" stroke-width="0.35" text-anchor="start" font-style="italic">p</text>
<text x="1175.3" y="743.2" font-size="28.6" fill="#fff" stroke="#fff" stroke-width="0.35" text-anchor="start" font-style="italic">w</text>
<text x="1187.5" y="796.8" font-size="28.6" fill="#fff" stroke="#fff" stroke-width="0.35" text-anchor="start" font-style="italic">d</text>
<text x="963.0" y="897.0" font-size="28.6" fill="#fff" stroke="#fff" stroke-width="0.35" text-anchor="start">50 <tspan dx="2">µ</tspan><tspan dx="1.5">m</tspan></text>
<rect x="960.0" y="907.6" width="85.6" height="8.4" fill="#fff"/>
<rect x="1268.6" y="659.7" width="10.4" height="10.8" fill="none" stroke="#1a1718" stroke-width="2.4"/>
<line x1="1274.2" y1="671.3" x2="1305.5" y2="758.4" stroke="#1a1718" stroke-width="2.5"/>
<clipPath id="cci"><rect x="1305.7" y="758.2" width="250.1" height="166.9"/></clipPath>
<g clip-path="url(#cci)">
<linearGradient id="gci" gradientUnits="userSpaceOnUse" x1="1425" y1="900" x2="1556" y2="758"><stop offset="0" stop-color="#3a3a3a"/><stop offset="0.5" stop-color="#484848"/><stop offset="1" stop-color="#5e5e5e"/></linearGradient>
<rect x="1305.7" y="758.2" width="250.1" height="166.9" fill="url(#gci)"/>
<linearGradient id="gcb" gradientUnits="userSpaceOnUse" x1="1305" y1="0" x2="1428" y2="0"><stop offset="0" stop-color="#9a9a9a"/><stop offset="0.55" stop-color="#a2a2a2"/><stop offset="0.85" stop-color="#b8b8b8"/><stop offset="1" stop-color="#c8c8c8"/></linearGradient>
<path d="M1300,750 L1413,750 C1417,790 1424,820 1426,850 C1427,870 1423,900 1420,930 L1300,930 Z" fill="#9a9a9a" filter="url(#b3)" opacity="0.85"/>
<path d="M1300,750 L1413,750 C1417,790 1424,820 1426,850 C1427,870 1423,900 1420,930 L1300,930 Z" fill="url(#gcb)" filter="url(#b2)"/>
<path d="M1417.7,833.5 l4.8,1.3 M1417.9,835.8 l4.5,0.3 M1413.9,788.8 l4.6,0.4 M1421.0,890.4 l2.5,-0.6 M1412.7,773.1 l6.0,0.6 M1412.1,765.0 l6.9,1.4 M1422.7,867.2 l5.1,-1.0 M1411.7,760.5 l4.6,-1.3 M1414.0,789.8 l3.2,-1.4 M1417.9,835.5 l4.2,1.0 M1418.6,844.7 l5.2,-0.0 M1422.6,868.6 l4.3,-0.7 M1418.4,924.6 l7.0,1.0 M1422.0,876.2 l3.6,-0.8 M1415.4,806.3 l2.4,0.8 M1417.0,824.9 l6.2,-0.3 M1418.9,918.0 l6.2,-1.5 M1414.3,793.0 l6.6,-0.1 M1418.6,921.7 l4.0,-1.3 M1423.0,863.1 l5.9,-0.7 M1412.6,772.6 l3.7,1.4 M1421.4,884.6 l2.6,-0.8 M1412.8,774.9 l2.3,0.9 M1413.8,787.7 l4.8,-0.2 M1414.0,789.8 l5.7,-1.1 M1422.8,865.5 l2.6,-0.2 M1414.3,793.5 l3.3,1.4 M1420.8,892.2 l3.5,1.2 M1414.3,793.2 l4.0,1.1 M1422.9,865.2 l2.5,1.5 M1414.3,793.6 l3.3,0.8 M1416.0,812.9 l3.5,-1.3 M1412.7,773.0 l4.9,-0.8 M1423.4,858.4 l3.9,-0.1 M1418.9,918.2 l4.4,0.2 M1420.0,902.7 l2.9,-1.0 M1419.5,909.7 l6.1,-0.8 M1414.0,789.7 l5.7,1.3 M1414.1,790.8 l6.8,1.1 M1423.3,858.8 l4.1,-1.2 M1412.0,764.5 l6.8,-0.8 M1422.1,875.7 l3.3,1.0 M1423.4,857.6 l3.5,-1.0 M1421.9,878.3 l2.3,-0.8 M1423.9,851.4 l6.3,0.3 M1415.3,804.8 l6.6,-0.9 M1411.7,760.8 l3.3,-0.2 M1412.3,768.1 l2.9,-0.4 M1423.7,853.6 l2.7,-0.4 M1419.7,906.8 l6.9,0.5 M1422.2,873.4 l4.9,-1.1 M1412.0,763.9 l2.1,1.2 M1422.1,875.1 l6.8,-1.4 M1422.9,864.2 l4.4,0.7 M1415.8,811.3 l7.0,-1.3 M1419.0,849.2 l5.7,1.2 M1421.7,881.1 l5.5,0.9 M1419.4,910.8 l3.8,0.6 M1419.6,908.4 l6.4,-0.2 M1421.0,890.0 l6.3,0.2 M1423.1,862.4 l3.9,0.2 M1423.3,859.7 l2.4,0.4 M1418.5,923.9 l6.4,0.7 M1416.8,822.9 l5.7,0.2 M1417.5,831.6 l6.2,-1.2 M1421.5,883.3 l2.1,0.3 M1418.1,838.3 l3.2,0.6 M1418.3,841.0 l5.1,1.3 M1414.9,800.7 l2.1,-0.6 M1422.4,871.2 l3.0,-1.0 M1419.6,909.3 l5.3,-0.2 M1419.7,906.9 l3.6,0.5 M1414.1,791.2 l4.2,0.9 M1419.4,910.7 l6.4,-0.3 M1423.6,855.4 l3.6,-1.1 M1418.3,840.9 l6.2,1.0 M1422.0,876.8 l6.8,-0.7 M1413.7,786.2 l4.3,-0.7 M1414.3,793.8 l4.1,0.4 M1418.3,840.5 l3.6,1.0 M1418.6,922.0 l4.3,-1.3 M1411.9,763.3 l6.4,-1.4 M1422.0,876.3 l4.9,-0.6 M1421.0,890.2 l2.1,-1.1 M1417.7,834.0 l2.1,1.0 M1414.7,797.6 l2.7,-1.4 M1423.0,863.1 l4.2,0.4 M1422.7,867.4 l6.0,1.4 M1422.3,872.3 l3.0,-0.1 M1413.8,787.8 l2.1,-0.1 M1422.0,877.3 l2.9,-0.7 M1416.2,815.7 l5.5,0.1 M1423.2,860.6 l5.8,-0.3 M1421.0,890.3 l6.5,-1.2 M1419.2,913.7 l5.6,-1.1 M1417.7,833.7 l5.1,1.2 M1416.6,820.9 l4.8,1.1 M1420.9,891.1 l6.7,-0.1 M1422.7,866.8 l3.0,0.7 M1420.7,894.7 l5.2,0.7 M1414.3,793.6 l6.5,1.4 M1418.7,921.2 l4.7,0.9 M1415.8,811.5 l6.5,1.1 M1416.2,816.2 l2.4,-0.2 M1419.1,849.9 l5.8,-0.0 M1411.9,762.7 l6.0,-1.3 M1420.9,891.6 l2.9,-0.5 M1421.0,889.6 l2.7,-1.1 M1418.6,844.3 l5.6,1.0 M1422.3,873.1 l6.7,-0.0 M1419.0,916.5 l2.4,-0.8 M1418.7,846.0 l3.5,0.7 M1422.9,864.7 l4.6,1.0 M1423.9,851.5 l3.6,-0.4 M1420.3,899.2 l6.5,-0.9 M1420.2,900.1 l6.8,0.1 M1423.7,853.7 l3.0,0.1 M1418.4,842.0 l5.0,-1.4 M1418.8,919.9 l4.6,-0.3 M1420.9,891.8 l4.8,-0.0 M1422.2,873.4 l2.3,0.1 M1417.2,827.1 l6.8,1.3 M1415.1,803.0 l4.4,-1.1 M1417.4,830.4 l6.1,1.2 M1418.0,837.6 l3.6,-0.9 M1423.2,861.2 l6.6,-1.1 M1421.1,888.1 l2.1,-0.9 M1414.5,796.0 l5.4,-0.5 M1416.3,817.3 l5.1,-1.2 M1421.7,880.1 l2.6,0.0 M1414.8,799.8 l3.0,0.1 M1417.5,830.9 l3.9,-0.3 M1418.8,846.4 l2.8,-0.9 M1423.0,863.4 l5.2,0.1 M1420.2,900.2 l5.1,1.1 M1414.6,796.9 l5.7,0.9 M1419.6,908.7 l3.6,-0.6 M1419.3,912.1 l3.1,1.5 M1419.8,906.2 l2.7,-0.8 M1421.8,879.3 l3.3,-1.2 M1420.5,897.0 l4.1,0.9 M1413.1,779.0 l4.0,0.6 M1411.8,761.0 l3.0,0.5 M1419.5,910.2 l6.8,-1.2 M1418.5,842.4 l5.8,0.0 M1422.3,872.5 l2.9,-1.3 M1412.9,775.7 l2.2,0.2 M1418.6,844.0 l4.8,-1.1 M1413.9,788.8 l3.0,1.0 M1418.5,923.4 l6.6,-1.2" stroke="#cfcfcf" stroke-width="0.9" opacity="0.8" fill="none"/>
<path d="M1312.9,916.9 l0.6,5.1 M1342.6,836.0 l-0.2,4.0 M1373.3,760.2 l-3.2,4.4 M1326.3,833.8 l-2.7,2.9 M1327.9,785.6 l-0.1,2.6 M1406.0,891.9 l-3.3,4.4 M1376.5,825.6 l-1.3,4.1 M1416.1,892.4 l3.9,4.1 M1389.4,887.9 l-3.3,2.2 M1406.4,904.9 l-3.0,4.2 M1391.7,825.8 l-1.8,2.1 M1344.3,836.3 l3.7,0.1 M1377.5,862.2 l4.3,3.9 M1380.6,814.4 l-2.2,3.9 M1365.7,823.1 l-4.7,0.0 M1384.5,885.2 l-2.6,0.2 M1374.9,881.4 l2.7,2.8 M1311.7,790.6 l1.1,2.6 M1334.1,909.2 l-0.7,4.2 M1414.3,852.9 l-4.7,0.1 M1396.7,770.7 l-1.6,4.9 M1311.1,913.3 l3.6,2.0 M1324.9,840.8 l-0.9,2.5 M1411.9,828.3 l-0.4,4.6 M1346.9,805.7 l-2.1,3.9 M1337.8,877.7 l1.5,2.0 M1333.4,765.1 l4.5,2.4 M1349.7,907.9 l-1.9,1.9 M1416.7,915.7 l5.5,1.3 M1354.1,837.8 l-3.3,0.3 M1364.6,914.5 l-2.7,3.2 M1415.6,894.4 l-0.9,2.8 M1375.9,834.1 l2.2,1.6 M1365.1,778.8 l0.9,4.8 M1357.0,801.8 l-1.0,3.8 M1393.1,846.6 l-5.8,0.0 M1388.2,797.8 l5.3,2.0 M1393.8,862.4 l1.5,3.1 M1382.7,852.3 l-1.3,4.5 M1390.4,789.7 l4.2,4.2 M1408.6,904.8 l2.7,0.3 M1336.3,829.0 l-1.1,2.6 M1366.7,770.1 l4.7,1.3 M1367.7,863.4 l1.6,3.8 M1329.6,815.4 l-3.8,3.9 M1314.3,778.0 l-3.9,2.6 M1392.1,793.6 l0.8,3.3 M1396.7,819.6 l-2.8,5.3 M1342.4,849.6 l-4.0,4.1 M1353.9,819.7 l5.3,1.7 M1314.8,771.9 l-0.8,4.1 M1382.8,807.9 l-2.1,1.8 M1329.9,868.6 l3.4,0.9 M1387.2,873.9 l1.9,2.3 M1346.1,879.2 l1.2,2.7 M1385.4,853.1 l-5.6,1.5 M1408.3,831.1 l-2.9,2.1 M1341.6,824.7 l-5.5,1.1 M1333.8,818.4 l1.5,3.4 M1350.3,822.7 l3.7,2.6 M1395.3,848.3 l-3.9,2.2 M1325.8,884.7 l-3.2,1.3 M1308.5,844.1 l-0.6,4.4 M1414.2,866.8 l-2.2,1.6 M1367.2,889.6 l2.7,0.7 M1388.6,908.1 l4.6,1.2 M1322.1,882.5 l-1.5,3.0 M1330.7,885.8 l-0.4,5.2 M1350.2,814.4 l-4.8,0.5 M1361.3,847.7 l-3.2,3.8 M1408.5,826.6 l-4.1,2.5 M1401.6,892.6 l-4.9,2.8 M1413.3,864.9 l-0.4,5.0 M1395.9,828.4 l0.7,2.9 M1389.0,923.5 l1.2,2.9 M1328.9,829.0 l3.6,4.7 M1312.6,809.5 l4.5,1.7 M1392.9,788.0 l4.0,0.8 M1371.4,909.9 l2.9,0.3 M1326.7,794.3 l3.7,3.4 M1372.6,795.4 l2.9,1.9 M1325.3,884.5 l2.5,3.7 M1397.5,838.1 l3.8,4.1 M1408.4,815.1 l-0.9,5.8 M1360.1,794.9 l5.7,0.9 M1395.8,822.3 l-0.4,4.3 M1336.7,923.4 l-1.6,2.9 M1307.2,836.9 l2.1,4.9 M1385.9,859.2 l2.7,1.4 M1342.0,801.3 l-3.9,1.7 M1377.3,923.9 l2.9,3.2 M1322.9,886.7 l5.4,0.0 M1400.8,895.3 l3.3,0.9 M1386.3,774.2 l0.3,4.1 M1413.0,856.0 l-3.2,1.5 M1394.4,827.6 l-2.7,0.7 M1398.5,792.8 l-0.6,4.3 M1323.6,896.9 l2.0,3.0 M1314.5,809.1 l0.5,5.0 M1346.3,872.7 l3.7,1.3 M1357.7,919.5 l-4.1,2.4 M1307.4,821.0 l-2.0,2.6 M1369.2,834.5 l6.0,0.2 M1395.5,792.5 l-1.3,3.3 M1348.1,848.1 l2.2,3.0 M1349.9,869.3 l2.2,2.3 M1387.9,813.0 l-4.4,0.8 M1387.1,813.4 l-2.4,1.5 M1321.8,773.8 l-2.6,4.2 M1326.1,825.2 l-4.0,2.2 M1316.1,795.8 l2.6,1.4 M1351.6,770.1 l-3.9,1.0 M1363.3,866.1 l-4.0,3.6 M1349.2,813.3 l0.7,2.5 M1350.9,874.9 l-5.3,0.3 M1379.9,859.6 l3.7,0.2 M1344.3,866.7 l3.6,1.3 M1363.0,889.7 l-4.0,2.4 M1323.7,886.0 l-4.2,1.3 M1345.5,841.6 l4.5,2.2 M1416.5,844.2 l-3.4,4.2 M1328.1,915.8 l-1.2,2.9 M1315.3,798.8 l-1.2,4.8 M1342.9,913.2 l1.7,3.7 M1319.9,920.6 l5.2,2.3 M1366.9,851.6 l-0.6,3.4 M1407.8,923.7 l-3.9,2.5 M1319.7,895.7 l3.5,4.4 M1333.0,853.8 l-2.7,1.6 M1367.4,770.7 l3.1,0.3 M1416.5,914.9 l-1.7,3.1 M1381.2,881.2 l1.7,4.3 M1396.0,760.7 l3.4,2.4 M1322.0,822.5 l-0.7,3.0 M1364.2,802.0 l-0.8,3.6 M1377.9,764.3 l-1.5,2.6 M1413.4,858.2 l0.4,3.9 M1375.9,873.1 l-3.7,3.5 M1360.4,924.1 l-4.8,2.7 M1351.8,830.5 l-1.2,5.5 M1364.9,845.7 l1.2,5.5 M1341.9,767.1 l-3.7,4.3 M1388.0,857.8 l-2.5,2.5 M1372.5,769.7 l3.8,1.5 M1362.3,824.3 l4.9,0.8 M1364.9,797.9 l2.2,3.2 M1332.4,769.4 l-5.7,1.6 M1380.6,902.7 l1.3,5.2 M1330.8,882.7 l-1.2,5.5 M1317.0,890.3 l4.1,1.7 M1412.5,758.1 l2.6,2.5 M1342.4,768.5 l-5.1,1.7 M1350.5,817.5 l-0.7,2.6 M1309.5,908.1 l2.4,3.5 M1410.6,921.2 l0.3,3.2 M1339.1,912.1 l-3.0,1.0 M1399.8,817.1 l0.3,3.1 M1404.5,924.2 l3.8,2.8 M1327.4,905.0 l2.8,0.4 M1387.3,810.3 l-5.3,1.7 M1385.9,780.5 l-3.3,4.7 M1355.9,771.2 l2.7,2.3 M1385.6,790.8 l2.8,1.8 M1380.4,890.0 l1.9,4.4 M1405.1,856.5 l2.7,2.3 M1409.8,869.4 l3.1,3.6 M1316.1,922.2 l0.8,4.3 M1365.5,765.6 l-1.1,3.3 M1334.1,892.1 l3.4,0.9 M1390.6,799.1 l2.8,3.4 M1326.9,907.8 l-2.6,0.1 M1357.7,883.3 l2.0,5.4 M1362.0,788.0 l-0.8,4.7 M1346.3,867.9 l-3.3,2.7 M1362.6,899.2 l-2.4,3.6 M1412.6,787.0 l-2.4,2.0 M1374.1,797.3 l1.0,5.1 M1394.1,890.1 l3.1,2.8 M1330.8,854.9 l0.0,2.6 M1372.8,877.4 l-1.3,5.4 M1326.2,783.4 l4.2,0.2 M1354.7,831.8 l3.6,3.9 M1314.1,909.5 l-0.9,4.3 M1394.7,797.7 l3.2,1.6 M1310.7,810.5 l-1.6,4.0 M1335.6,856.3 l5.2,1.5 M1325.2,800.6 l4.3,2.4 M1399.1,889.4 l3.9,0.8 M1346.8,794.1 l-2.6,0.2 M1360.8,885.1 l-3.0,0.1 M1357.0,882.4 l3.3,0.4 M1405.7,781.6 l1.2,3.3 M1353.5,770.8 l6.0,0.6 M1391.5,880.6 l2.5,2.2 M1367.8,798.4 l0.7,5.7 M1346.8,814.3 l-4.6,0.3 M1310.4,825.3 l-1.2,2.4 M1344.4,874.0 l-4.2,1.9 M1405.3,835.3 l1.8,5.1 M1348.7,888.5 l2.9,2.3 M1326.6,849.8 l2.8,1.6 M1330.0,836.1 l2.3,3.4 M1417.3,871.4 l-2.9,1.3 M1348.9,770.2 l-2.1,3.1 M1336.7,761.1 l2.9,1.9 M1350.0,912.2 l-2.2,2.7 M1346.4,783.6 l-3.7,0.7 M1391.8,878.8 l-2.5,0.7 M1342.1,822.2 l5.4,1.4 M1342.4,886.7 l-0.2,2.7 M1350.1,797.8 l3.0,0.4 M1372.7,763.3 l2.2,3.3 M1366.9,780.7 l-2.1,2.7 M1387.3,869.3 l2.9,1.4 M1337.4,877.0 l1.1,3.7 M1403.0,795.7 l2.3,2.9 M1330.2,764.8 l4.7,0.4 M1369.4,893.1 l-3.5,0.3 M1381.1,911.5 l3.8,3.1 M1380.7,917.5 l-3.0,1.3 M1376.8,773.0 l0.9,3.8 M1312.7,822.0 l2.2,3.6 M1337.3,784.5 l1.3,4.0 M1324.7,869.1 l2.1,1.9 M1344.3,828.5 l4.0,2.1 M1384.6,850.4 l-1.5,2.1 M1349.8,818.8 l3.8,0.8 M1312.1,840.8 l-1.1,4.0 M1342.5,800.3 l3.7,0.3 M1405.9,852.5 l3.3,3.5 M1326.8,836.4 l-2.1,5.5 M1346.6,854.2 l-5.1,0.9 M1376.3,861.7 l1.1,3.8 M1336.9,896.5 l-3.6,1.4 M1407.9,764.4 l3.9,1.8 M1340.6,818.2 l-3.0,0.2 M1327.6,796.2 l-1.8,2.8 M1306.1,848.8 l1.1,3.2 M1361.3,866.6 l-0.7,4.6 M1368.8,896.8 l-3.6,0.4 M1344.8,906.0 l2.8,4.2 M1383.9,872.7 l-5.4,0.6 M1323.9,861.8 l0.1,4.5 M1347.4,805.7 l-3.1,3.1 M1332.5,799.6 l1.6,2.7 M1363.5,779.0 l2.7,0.5 M1317.4,875.7 l3.8,1.4 M1392.5,838.3 l4.8,2.7 M1403.4,766.9 l3.0,3.1 M1395.2,823.5 l-2.1,2.6 M1386.2,812.6 l2.6,4.5 M1400.4,896.4 l-0.8,3.9 M1385.2,862.0 l-4.6,2.7 M1320.0,821.0 l-1.7,2.9 M1326.7,760.3 l-1.5,5.6 M1414.7,780.3 l-2.2,3.3 M1376.7,824.3 l-5.8,1.2 M1311.5,877.1 l2.5,1.0 M1338.0,880.1 l-2.9,0.1 M1343.0,762.4 l-0.6,4.2" stroke="#d0d0d0" stroke-width="1.1" opacity="0.42" fill="none" filter="url(#b06)"/>
<rect x="1305.7" y="758.2" width="118" height="166.9" filter="url(#grain2)" opacity="0.3" style="mix-blend-mode:overlay"/>
<rect x="1305.7" y="758.2" width="250.1" height="166.9" filter="url(#grain)" opacity="0.22" style="mix-blend-mode:overlay"/>
</g>
<rect x="1305.7" y="758.2" width="250.1" height="166.9" fill="none" stroke="#262324" stroke-width="2.6"/>
<text x="1449.0" y="788.2" font-size="29" fill="#fff" stroke="#fff" stroke-width="0.35" text-anchor="start">500 nm</text>
<rect x="1476.1" y="800.5" width="40.8" height="8.7" fill="#fff"/>
</svg>
</body></html>
